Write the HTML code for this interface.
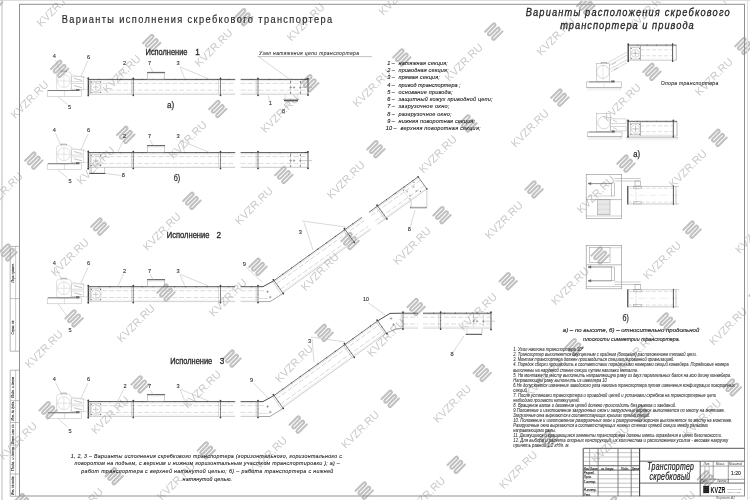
<!DOCTYPE html>
<html><head><meta charset="utf-8"><style>
html,body{margin:0;padding:0;background:#fff;}
svg{display:block;font-family:"Liberation Sans",sans-serif;will-change:transform;}
</style></head><body>
<svg width="750" height="500" viewBox="0 0 750 500">
<text x="0" y="0" font-size="11" fill="#c9c9c9" text-anchor="middle" transform="translate(-10.7,-58.5) rotate(-45) translate(0,4)">KVZR.RU</text>
<path d="M -6.00 6.30 L -6.00 -4.80 A 1.50 1.50 0 0 1 -3.00 -4.80 L -3.00 4.80 A 1.50 1.50 0 0 0 0.00 4.80 L 0.00 -4.80 A 1.50 1.50 0 0 1 3.00 -4.80 L 3.00 4.80 A 1.50 1.50 0 0 0 6.00 4.80 L 6.00 -6.30" stroke="#c0c0c0" stroke-width="2.05" fill="none" stroke-linecap="round" transform="translate(19.5,-89.0) rotate(45)"/>
<text x="0" y="0" font-size="11" fill="#c9c9c9" text-anchor="middle" transform="translate(239.4,-44.1) rotate(-45) translate(0,4)">KVZR.RU</text>
<path d="M -6.00 6.30 L -6.00 -4.80 A 1.50 1.50 0 0 1 -3.00 -4.80 L -3.00 4.80 A 1.50 1.50 0 0 0 0.00 4.80 L 0.00 -4.80 A 1.50 1.50 0 0 1 3.00 -4.80 L 3.00 4.80 A 1.50 1.50 0 0 0 6.00 4.80 L 6.00 -6.30" stroke="#c0c0c0" stroke-width="2.05" fill="none" stroke-linecap="round" transform="translate(269.6,-74.6) rotate(45)"/>
<text x="0" y="0" font-size="11" fill="#c9c9c9" text-anchor="middle" transform="translate(147.4,-18.3) rotate(-45) translate(0,4)">KVZR.RU</text>
<path d="M -6.00 6.30 L -6.00 -4.80 A 1.50 1.50 0 0 1 -3.00 -4.80 L -3.00 4.80 A 1.50 1.50 0 0 0 0.00 4.80 L 0.00 -4.80 A 1.50 1.50 0 0 1 3.00 -4.80 L 3.00 4.80 A 1.50 1.50 0 0 0 6.00 4.80 L 6.00 -6.30" stroke="#c0c0c0" stroke-width="2.05" fill="none" stroke-linecap="round" transform="translate(177.6,-48.8) rotate(45)"/>
<text x="0" y="0" font-size="11" fill="#c9c9c9" text-anchor="middle" transform="translate(55.4,7.5) rotate(-45) translate(0,4)">KVZR.RU</text>
<path d="M -6.00 6.30 L -6.00 -4.80 A 1.50 1.50 0 0 1 -3.00 -4.80 L -3.00 4.80 A 1.50 1.50 0 0 0 0.00 4.80 L 0.00 -4.80 A 1.50 1.50 0 0 1 3.00 -4.80 L 3.00 4.80 A 1.50 1.50 0 0 0 6.00 4.80 L 6.00 -6.30" stroke="#c0c0c0" stroke-width="2.05" fill="none" stroke-linecap="round" transform="translate(85.6,-23.0) rotate(45)"/>
<text x="0" y="0" font-size="11" fill="#c9c9c9" text-anchor="middle" transform="translate(-36.6,33.3) rotate(-45) translate(0,4)">KVZR.RU</text>
<path d="M -6.00 6.30 L -6.00 -4.80 A 1.50 1.50 0 0 1 -3.00 -4.80 L -3.00 4.80 A 1.50 1.50 0 0 0 0.00 4.80 L 0.00 -4.80 A 1.50 1.50 0 0 1 3.00 -4.80 L 3.00 4.80 A 1.50 1.50 0 0 0 6.00 4.80 L 6.00 -6.30" stroke="#c0c0c0" stroke-width="2.05" fill="none" stroke-linecap="round" transform="translate(-6.4,2.8) rotate(45)"/>
<text x="0" y="0" font-size="11" fill="#c9c9c9" text-anchor="middle" transform="translate(581.5,-55.5) rotate(-45) translate(0,4)">KVZR.RU</text>
<path d="M -6.00 6.30 L -6.00 -4.80 A 1.50 1.50 0 0 1 -3.00 -4.80 L -3.00 4.80 A 1.50 1.50 0 0 0 0.00 4.80 L 0.00 -4.80 A 1.50 1.50 0 0 1 3.00 -4.80 L 3.00 4.80 A 1.50 1.50 0 0 0 6.00 4.80 L 6.00 -6.30" stroke="#c0c0c0" stroke-width="2.05" fill="none" stroke-linecap="round" transform="translate(611.7,-86.0) rotate(45)"/>
<text x="0" y="0" font-size="11" fill="#c9c9c9" text-anchor="middle" transform="translate(489.5,-29.7) rotate(-45) translate(0,4)">KVZR.RU</text>
<path d="M -6.00 6.30 L -6.00 -4.80 A 1.50 1.50 0 0 1 -3.00 -4.80 L -3.00 4.80 A 1.50 1.50 0 0 0 0.00 4.80 L 0.00 -4.80 A 1.50 1.50 0 0 1 3.00 -4.80 L 3.00 4.80 A 1.50 1.50 0 0 0 6.00 4.80 L 6.00 -6.30" stroke="#c0c0c0" stroke-width="2.05" fill="none" stroke-linecap="round" transform="translate(519.7,-60.2) rotate(45)"/>
<text x="0" y="0" font-size="11" fill="#c9c9c9" text-anchor="middle" transform="translate(397.5,-3.9) rotate(-45) translate(0,4)">KVZR.RU</text>
<path d="M -6.00 6.30 L -6.00 -4.80 A 1.50 1.50 0 0 1 -3.00 -4.80 L -3.00 4.80 A 1.50 1.50 0 0 0 0.00 4.80 L 0.00 -4.80 A 1.50 1.50 0 0 1 3.00 -4.80 L 3.00 4.80 A 1.50 1.50 0 0 0 6.00 4.80 L 6.00 -6.30" stroke="#c0c0c0" stroke-width="2.05" fill="none" stroke-linecap="round" transform="translate(427.7,-34.4) rotate(45)"/>
<text x="0" y="0" font-size="11" fill="#c9c9c9" text-anchor="middle" transform="translate(305.5,21.9) rotate(-45) translate(0,4)">KVZR.RU</text>
<path d="M -6.00 6.30 L -6.00 -4.80 A 1.50 1.50 0 0 1 -3.00 -4.80 L -3.00 4.80 A 1.50 1.50 0 0 0 0.00 4.80 L 0.00 -4.80 A 1.50 1.50 0 0 1 3.00 -4.80 L 3.00 4.80 A 1.50 1.50 0 0 0 6.00 4.80 L 6.00 -6.30" stroke="#c0c0c0" stroke-width="2.05" fill="none" stroke-linecap="round" transform="translate(335.7,-8.6) rotate(45)"/>
<text x="0" y="0" font-size="11" fill="#c9c9c9" text-anchor="middle" transform="translate(213.5,47.7) rotate(-45) translate(0,4)">KVZR.RU</text>
<path d="M -6.00 6.30 L -6.00 -4.80 A 1.50 1.50 0 0 1 -3.00 -4.80 L -3.00 4.80 A 1.50 1.50 0 0 0 0.00 4.80 L 0.00 -4.80 A 1.50 1.50 0 0 1 3.00 -4.80 L 3.00 4.80 A 1.50 1.50 0 0 0 6.00 4.80 L 6.00 -6.30" stroke="#c0c0c0" stroke-width="2.05" fill="none" stroke-linecap="round" transform="translate(243.7,17.2) rotate(45)"/>
<text x="0" y="0" font-size="11" fill="#c9c9c9" text-anchor="middle" transform="translate(121.5,73.5) rotate(-45) translate(0,4)">KVZR.RU</text>
<path d="M -6.00 6.30 L -6.00 -4.80 A 1.50 1.50 0 0 1 -3.00 -4.80 L -3.00 4.80 A 1.50 1.50 0 0 0 0.00 4.80 L 0.00 -4.80 A 1.50 1.50 0 0 1 3.00 -4.80 L 3.00 4.80 A 1.50 1.50 0 0 0 6.00 4.80 L 6.00 -6.30" stroke="#c0c0c0" stroke-width="2.05" fill="none" stroke-linecap="round" transform="translate(151.7,43.0) rotate(45)"/>
<text x="0" y="0" font-size="11" fill="#c9c9c9" text-anchor="middle" transform="translate(29.5,99.3) rotate(-45) translate(0,4)">KVZR.RU</text>
<path d="M -6.00 6.30 L -6.00 -4.80 A 1.50 1.50 0 0 1 -3.00 -4.80 L -3.00 4.80 A 1.50 1.50 0 0 0 0.00 4.80 L 0.00 -4.80 A 1.50 1.50 0 0 1 3.00 -4.80 L 3.00 4.80 A 1.50 1.50 0 0 0 6.00 4.80 L 6.00 -6.30" stroke="#c0c0c0" stroke-width="2.05" fill="none" stroke-linecap="round" transform="translate(59.7,68.8) rotate(45)"/>
<text x="0" y="0" font-size="11" fill="#c9c9c9" text-anchor="middle" transform="translate(739.6,-15.3) rotate(-45) translate(0,4)">KVZR.RU</text>
<path d="M -6.00 6.30 L -6.00 -4.80 A 1.50 1.50 0 0 1 -3.00 -4.80 L -3.00 4.80 A 1.50 1.50 0 0 0 0.00 4.80 L 0.00 -4.80 A 1.50 1.50 0 0 1 3.00 -4.80 L 3.00 4.80 A 1.50 1.50 0 0 0 6.00 4.80 L 6.00 -6.30" stroke="#c0c0c0" stroke-width="2.05" fill="none" stroke-linecap="round" transform="translate(769.8,-45.8) rotate(45)"/>
<text x="0" y="0" font-size="11" fill="#c9c9c9" text-anchor="middle" transform="translate(647.6,10.5) rotate(-45) translate(0,4)">KVZR.RU</text>
<path d="M -6.00 6.30 L -6.00 -4.80 A 1.50 1.50 0 0 1 -3.00 -4.80 L -3.00 4.80 A 1.50 1.50 0 0 0 0.00 4.80 L 0.00 -4.80 A 1.50 1.50 0 0 1 3.00 -4.80 L 3.00 4.80 A 1.50 1.50 0 0 0 6.00 4.80 L 6.00 -6.30" stroke="#c0c0c0" stroke-width="2.05" fill="none" stroke-linecap="round" transform="translate(677.8,-20.0) rotate(45)"/>
<text x="0" y="0" font-size="11" fill="#c9c9c9" text-anchor="middle" transform="translate(555.6,36.3) rotate(-45) translate(0,4)">KVZR.RU</text>
<path d="M -6.00 6.30 L -6.00 -4.80 A 1.50 1.50 0 0 1 -3.00 -4.80 L -3.00 4.80 A 1.50 1.50 0 0 0 0.00 4.80 L 0.00 -4.80 A 1.50 1.50 0 0 1 3.00 -4.80 L 3.00 4.80 A 1.50 1.50 0 0 0 6.00 4.80 L 6.00 -6.30" stroke="#c0c0c0" stroke-width="2.05" fill="none" stroke-linecap="round" transform="translate(585.8,5.8) rotate(45)"/>
<text x="0" y="0" font-size="11" fill="#c9c9c9" text-anchor="middle" transform="translate(463.6,62.1) rotate(-45) translate(0,4)">KVZR.RU</text>
<path d="M -6.00 6.30 L -6.00 -4.80 A 1.50 1.50 0 0 1 -3.00 -4.80 L -3.00 4.80 A 1.50 1.50 0 0 0 0.00 4.80 L 0.00 -4.80 A 1.50 1.50 0 0 1 3.00 -4.80 L 3.00 4.80 A 1.50 1.50 0 0 0 6.00 4.80 L 6.00 -6.30" stroke="#c0c0c0" stroke-width="2.05" fill="none" stroke-linecap="round" transform="translate(493.8,31.6) rotate(45)"/>
<text x="0" y="0" font-size="11" fill="#c9c9c9" text-anchor="middle" transform="translate(371.6,87.9) rotate(-45) translate(0,4)">KVZR.RU</text>
<path d="M -6.00 6.30 L -6.00 -4.80 A 1.50 1.50 0 0 1 -3.00 -4.80 L -3.00 4.80 A 1.50 1.50 0 0 0 0.00 4.80 L 0.00 -4.80 A 1.50 1.50 0 0 1 3.00 -4.80 L 3.00 4.80 A 1.50 1.50 0 0 0 6.00 4.80 L 6.00 -6.30" stroke="#c0c0c0" stroke-width="2.05" fill="none" stroke-linecap="round" transform="translate(401.8,57.4) rotate(45)"/>
<text x="0" y="0" font-size="11" fill="#c9c9c9" text-anchor="middle" transform="translate(279.6,113.7) rotate(-45) translate(0,4)">KVZR.RU</text>
<path d="M -6.00 6.30 L -6.00 -4.80 A 1.50 1.50 0 0 1 -3.00 -4.80 L -3.00 4.80 A 1.50 1.50 0 0 0 0.00 4.80 L 0.00 -4.80 A 1.50 1.50 0 0 1 3.00 -4.80 L 3.00 4.80 A 1.50 1.50 0 0 0 6.00 4.80 L 6.00 -6.30" stroke="#c0c0c0" stroke-width="2.05" fill="none" stroke-linecap="round" transform="translate(309.8,83.2) rotate(45)"/>
<text x="0" y="0" font-size="11" fill="#c9c9c9" text-anchor="middle" transform="translate(187.6,139.5) rotate(-45) translate(0,4)">KVZR.RU</text>
<path d="M -6.00 6.30 L -6.00 -4.80 A 1.50 1.50 0 0 1 -3.00 -4.80 L -3.00 4.80 A 1.50 1.50 0 0 0 0.00 4.80 L 0.00 -4.80 A 1.50 1.50 0 0 1 3.00 -4.80 L 3.00 4.80 A 1.50 1.50 0 0 0 6.00 4.80 L 6.00 -6.30" stroke="#c0c0c0" stroke-width="2.05" fill="none" stroke-linecap="round" transform="translate(217.8,109.0) rotate(45)"/>
<text x="0" y="0" font-size="11" fill="#c9c9c9" text-anchor="middle" transform="translate(95.6,165.3) rotate(-45) translate(0,4)">KVZR.RU</text>
<path d="M -6.00 6.30 L -6.00 -4.80 A 1.50 1.50 0 0 1 -3.00 -4.80 L -3.00 4.80 A 1.50 1.50 0 0 0 0.00 4.80 L 0.00 -4.80 A 1.50 1.50 0 0 1 3.00 -4.80 L 3.00 4.80 A 1.50 1.50 0 0 0 6.00 4.80 L 6.00 -6.30" stroke="#c0c0c0" stroke-width="2.05" fill="none" stroke-linecap="round" transform="translate(125.8,134.8) rotate(45)"/>
<text x="0" y="0" font-size="11" fill="#c9c9c9" text-anchor="middle" transform="translate(3.6,191.1) rotate(-45) translate(0,4)">KVZR.RU</text>
<path d="M -6.00 6.30 L -6.00 -4.80 A 1.50 1.50 0 0 1 -3.00 -4.80 L -3.00 4.80 A 1.50 1.50 0 0 0 0.00 4.80 L 0.00 -4.80 A 1.50 1.50 0 0 1 3.00 -4.80 L 3.00 4.80 A 1.50 1.50 0 0 0 6.00 4.80 L 6.00 -6.30" stroke="#c0c0c0" stroke-width="2.05" fill="none" stroke-linecap="round" transform="translate(33.8,160.6) rotate(45)"/>
<text x="0" y="0" font-size="11" fill="#c9c9c9" text-anchor="middle" transform="translate(805.7,50.7) rotate(-45) translate(0,4)">KVZR.RU</text>
<path d="M -6.00 6.30 L -6.00 -4.80 A 1.50 1.50 0 0 1 -3.00 -4.80 L -3.00 4.80 A 1.50 1.50 0 0 0 0.00 4.80 L 0.00 -4.80 A 1.50 1.50 0 0 1 3.00 -4.80 L 3.00 4.80 A 1.50 1.50 0 0 0 6.00 4.80 L 6.00 -6.30" stroke="#c0c0c0" stroke-width="2.05" fill="none" stroke-linecap="round" transform="translate(835.9,20.2) rotate(45)"/>
<text x="0" y="0" font-size="11" fill="#c9c9c9" text-anchor="middle" transform="translate(713.7,76.5) rotate(-45) translate(0,4)">KVZR.RU</text>
<path d="M -6.00 6.30 L -6.00 -4.80 A 1.50 1.50 0 0 1 -3.00 -4.80 L -3.00 4.80 A 1.50 1.50 0 0 0 0.00 4.80 L 0.00 -4.80 A 1.50 1.50 0 0 1 3.00 -4.80 L 3.00 4.80 A 1.50 1.50 0 0 0 6.00 4.80 L 6.00 -6.30" stroke="#c0c0c0" stroke-width="2.05" fill="none" stroke-linecap="round" transform="translate(743.9,46.0) rotate(45)"/>
<text x="0" y="0" font-size="11" fill="#c9c9c9" text-anchor="middle" transform="translate(621.7,102.3) rotate(-45) translate(0,4)">KVZR.RU</text>
<path d="M -6.00 6.30 L -6.00 -4.80 A 1.50 1.50 0 0 1 -3.00 -4.80 L -3.00 4.80 A 1.50 1.50 0 0 0 0.00 4.80 L 0.00 -4.80 A 1.50 1.50 0 0 1 3.00 -4.80 L 3.00 4.80 A 1.50 1.50 0 0 0 6.00 4.80 L 6.00 -6.30" stroke="#c0c0c0" stroke-width="2.05" fill="none" stroke-linecap="round" transform="translate(651.9,71.8) rotate(45)"/>
<text x="0" y="0" font-size="11" fill="#c9c9c9" text-anchor="middle" transform="translate(529.7,128.1) rotate(-45) translate(0,4)">KVZR.RU</text>
<path d="M -6.00 6.30 L -6.00 -4.80 A 1.50 1.50 0 0 1 -3.00 -4.80 L -3.00 4.80 A 1.50 1.50 0 0 0 0.00 4.80 L 0.00 -4.80 A 1.50 1.50 0 0 1 3.00 -4.80 L 3.00 4.80 A 1.50 1.50 0 0 0 6.00 4.80 L 6.00 -6.30" stroke="#c0c0c0" stroke-width="2.05" fill="none" stroke-linecap="round" transform="translate(559.9,97.6) rotate(45)"/>
<text x="0" y="0" font-size="11" fill="#c9c9c9" text-anchor="middle" transform="translate(437.7,153.9) rotate(-45) translate(0,4)">KVZR.RU</text>
<path d="M -6.00 6.30 L -6.00 -4.80 A 1.50 1.50 0 0 1 -3.00 -4.80 L -3.00 4.80 A 1.50 1.50 0 0 0 0.00 4.80 L 0.00 -4.80 A 1.50 1.50 0 0 1 3.00 -4.80 L 3.00 4.80 A 1.50 1.50 0 0 0 6.00 4.80 L 6.00 -6.30" stroke="#c0c0c0" stroke-width="2.05" fill="none" stroke-linecap="round" transform="translate(467.9,123.4) rotate(45)"/>
<text x="0" y="0" font-size="11" fill="#c9c9c9" text-anchor="middle" transform="translate(345.7,179.7) rotate(-45) translate(0,4)">KVZR.RU</text>
<path d="M -6.00 6.30 L -6.00 -4.80 A 1.50 1.50 0 0 1 -3.00 -4.80 L -3.00 4.80 A 1.50 1.50 0 0 0 0.00 4.80 L 0.00 -4.80 A 1.50 1.50 0 0 1 3.00 -4.80 L 3.00 4.80 A 1.50 1.50 0 0 0 6.00 4.80 L 6.00 -6.30" stroke="#c0c0c0" stroke-width="2.05" fill="none" stroke-linecap="round" transform="translate(375.9,149.2) rotate(45)"/>
<text x="0" y="0" font-size="11" fill="#c9c9c9" text-anchor="middle" transform="translate(253.7,205.5) rotate(-45) translate(0,4)">KVZR.RU</text>
<path d="M -6.00 6.30 L -6.00 -4.80 A 1.50 1.50 0 0 1 -3.00 -4.80 L -3.00 4.80 A 1.50 1.50 0 0 0 0.00 4.80 L 0.00 -4.80 A 1.50 1.50 0 0 1 3.00 -4.80 L 3.00 4.80 A 1.50 1.50 0 0 0 6.00 4.80 L 6.00 -6.30" stroke="#c0c0c0" stroke-width="2.05" fill="none" stroke-linecap="round" transform="translate(283.9,175.0) rotate(45)"/>
<text x="0" y="0" font-size="11" fill="#c9c9c9" text-anchor="middle" transform="translate(161.7,231.3) rotate(-45) translate(0,4)">KVZR.RU</text>
<path d="M -6.00 6.30 L -6.00 -4.80 A 1.50 1.50 0 0 1 -3.00 -4.80 L -3.00 4.80 A 1.50 1.50 0 0 0 0.00 4.80 L 0.00 -4.80 A 1.50 1.50 0 0 1 3.00 -4.80 L 3.00 4.80 A 1.50 1.50 0 0 0 6.00 4.80 L 6.00 -6.30" stroke="#c0c0c0" stroke-width="2.05" fill="none" stroke-linecap="round" transform="translate(191.9,200.8) rotate(45)"/>
<text x="0" y="0" font-size="11" fill="#c9c9c9" text-anchor="middle" transform="translate(69.7,257.1) rotate(-45) translate(0,4)">KVZR.RU</text>
<path d="M -6.00 6.30 L -6.00 -4.80 A 1.50 1.50 0 0 1 -3.00 -4.80 L -3.00 4.80 A 1.50 1.50 0 0 0 0.00 4.80 L 0.00 -4.80 A 1.50 1.50 0 0 1 3.00 -4.80 L 3.00 4.80 A 1.50 1.50 0 0 0 6.00 4.80 L 6.00 -6.30" stroke="#c0c0c0" stroke-width="2.05" fill="none" stroke-linecap="round" transform="translate(99.9,226.6) rotate(45)"/>
<text x="0" y="0" font-size="11" fill="#c9c9c9" text-anchor="middle" transform="translate(-22.3,282.9) rotate(-45) translate(0,4)">KVZR.RU</text>
<path d="M -6.00 6.30 L -6.00 -4.80 A 1.50 1.50 0 0 1 -3.00 -4.80 L -3.00 4.80 A 1.50 1.50 0 0 0 0.00 4.80 L 0.00 -4.80 A 1.50 1.50 0 0 1 3.00 -4.80 L 3.00 4.80 A 1.50 1.50 0 0 0 6.00 4.80 L 6.00 -6.30" stroke="#c0c0c0" stroke-width="2.05" fill="none" stroke-linecap="round" transform="translate(7.9,252.4) rotate(45)"/>
<text x="0" y="0" font-size="11" fill="#c9c9c9" text-anchor="middle" transform="translate(779.8,142.5) rotate(-45) translate(0,4)">KVZR.RU</text>
<path d="M -6.00 6.30 L -6.00 -4.80 A 1.50 1.50 0 0 1 -3.00 -4.80 L -3.00 4.80 A 1.50 1.50 0 0 0 0.00 4.80 L 0.00 -4.80 A 1.50 1.50 0 0 1 3.00 -4.80 L 3.00 4.80 A 1.50 1.50 0 0 0 6.00 4.80 L 6.00 -6.30" stroke="#c0c0c0" stroke-width="2.05" fill="none" stroke-linecap="round" transform="translate(810.0,112.0) rotate(45)"/>
<text x="0" y="0" font-size="11" fill="#c9c9c9" text-anchor="middle" transform="translate(687.8,168.3) rotate(-45) translate(0,4)">KVZR.RU</text>
<path d="M -6.00 6.30 L -6.00 -4.80 A 1.50 1.50 0 0 1 -3.00 -4.80 L -3.00 4.80 A 1.50 1.50 0 0 0 0.00 4.80 L 0.00 -4.80 A 1.50 1.50 0 0 1 3.00 -4.80 L 3.00 4.80 A 1.50 1.50 0 0 0 6.00 4.80 L 6.00 -6.30" stroke="#c0c0c0" stroke-width="2.05" fill="none" stroke-linecap="round" transform="translate(718.0,137.8) rotate(45)"/>
<text x="0" y="0" font-size="11" fill="#c9c9c9" text-anchor="middle" transform="translate(595.8,194.1) rotate(-45) translate(0,4)">KVZR.RU</text>
<path d="M -6.00 6.30 L -6.00 -4.80 A 1.50 1.50 0 0 1 -3.00 -4.80 L -3.00 4.80 A 1.50 1.50 0 0 0 0.00 4.80 L 0.00 -4.80 A 1.50 1.50 0 0 1 3.00 -4.80 L 3.00 4.80 A 1.50 1.50 0 0 0 6.00 4.80 L 6.00 -6.30" stroke="#c0c0c0" stroke-width="2.05" fill="none" stroke-linecap="round" transform="translate(626.0,163.6) rotate(45)"/>
<text x="0" y="0" font-size="11" fill="#c9c9c9" text-anchor="middle" transform="translate(503.8,219.9) rotate(-45) translate(0,4)">KVZR.RU</text>
<path d="M -6.00 6.30 L -6.00 -4.80 A 1.50 1.50 0 0 1 -3.00 -4.80 L -3.00 4.80 A 1.50 1.50 0 0 0 0.00 4.80 L 0.00 -4.80 A 1.50 1.50 0 0 1 3.00 -4.80 L 3.00 4.80 A 1.50 1.50 0 0 0 6.00 4.80 L 6.00 -6.30" stroke="#c0c0c0" stroke-width="2.05" fill="none" stroke-linecap="round" transform="translate(534.0,189.4) rotate(45)"/>
<text x="0" y="0" font-size="11" fill="#c9c9c9" text-anchor="middle" transform="translate(411.8,245.7) rotate(-45) translate(0,4)">KVZR.RU</text>
<path d="M -6.00 6.30 L -6.00 -4.80 A 1.50 1.50 0 0 1 -3.00 -4.80 L -3.00 4.80 A 1.50 1.50 0 0 0 0.00 4.80 L 0.00 -4.80 A 1.50 1.50 0 0 1 3.00 -4.80 L 3.00 4.80 A 1.50 1.50 0 0 0 6.00 4.80 L 6.00 -6.30" stroke="#c0c0c0" stroke-width="2.05" fill="none" stroke-linecap="round" transform="translate(442.0,215.2) rotate(45)"/>
<text x="0" y="0" font-size="11" fill="#c9c9c9" text-anchor="middle" transform="translate(319.8,271.5) rotate(-45) translate(0,4)">KVZR.RU</text>
<path d="M -6.00 6.30 L -6.00 -4.80 A 1.50 1.50 0 0 1 -3.00 -4.80 L -3.00 4.80 A 1.50 1.50 0 0 0 0.00 4.80 L 0.00 -4.80 A 1.50 1.50 0 0 1 3.00 -4.80 L 3.00 4.80 A 1.50 1.50 0 0 0 6.00 4.80 L 6.00 -6.30" stroke="#c0c0c0" stroke-width="2.05" fill="none" stroke-linecap="round" transform="translate(350.0,241.0) rotate(45)"/>
<text x="0" y="0" font-size="11" fill="#c9c9c9" text-anchor="middle" transform="translate(227.8,297.3) rotate(-45) translate(0,4)">KVZR.RU</text>
<path d="M -6.00 6.30 L -6.00 -4.80 A 1.50 1.50 0 0 1 -3.00 -4.80 L -3.00 4.80 A 1.50 1.50 0 0 0 0.00 4.80 L 0.00 -4.80 A 1.50 1.50 0 0 1 3.00 -4.80 L 3.00 4.80 A 1.50 1.50 0 0 0 6.00 4.80 L 6.00 -6.30" stroke="#c0c0c0" stroke-width="2.05" fill="none" stroke-linecap="round" transform="translate(258.0,266.8) rotate(45)"/>
<text x="0" y="0" font-size="11" fill="#c9c9c9" text-anchor="middle" transform="translate(135.8,323.1) rotate(-45) translate(0,4)">KVZR.RU</text>
<path d="M -6.00 6.30 L -6.00 -4.80 A 1.50 1.50 0 0 1 -3.00 -4.80 L -3.00 4.80 A 1.50 1.50 0 0 0 0.00 4.80 L 0.00 -4.80 A 1.50 1.50 0 0 1 3.00 -4.80 L 3.00 4.80 A 1.50 1.50 0 0 0 6.00 4.80 L 6.00 -6.30" stroke="#c0c0c0" stroke-width="2.05" fill="none" stroke-linecap="round" transform="translate(166.0,292.6) rotate(45)"/>
<text x="0" y="0" font-size="11" fill="#c9c9c9" text-anchor="middle" transform="translate(43.8,348.9) rotate(-45) translate(0,4)">KVZR.RU</text>
<path d="M -6.00 6.30 L -6.00 -4.80 A 1.50 1.50 0 0 1 -3.00 -4.80 L -3.00 4.80 A 1.50 1.50 0 0 0 0.00 4.80 L 0.00 -4.80 A 1.50 1.50 0 0 1 3.00 -4.80 L 3.00 4.80 A 1.50 1.50 0 0 0 6.00 4.80 L 6.00 -6.30" stroke="#c0c0c0" stroke-width="2.05" fill="none" stroke-linecap="round" transform="translate(74.0,318.4) rotate(45)"/>
<text x="0" y="0" font-size="11" fill="#c9c9c9" text-anchor="middle" transform="translate(-48.2,374.7) rotate(-45) translate(0,4)">KVZR.RU</text>
<path d="M -6.00 6.30 L -6.00 -4.80 A 1.50 1.50 0 0 1 -3.00 -4.80 L -3.00 4.80 A 1.50 1.50 0 0 0 0.00 4.80 L 0.00 -4.80 A 1.50 1.50 0 0 1 3.00 -4.80 L 3.00 4.80 A 1.50 1.50 0 0 0 6.00 4.80 L 6.00 -6.30" stroke="#c0c0c0" stroke-width="2.05" fill="none" stroke-linecap="round" transform="translate(-18.0,344.2) rotate(45)"/>
<text x="0" y="0" font-size="11" fill="#c9c9c9" text-anchor="middle" transform="translate(753.9,234.3) rotate(-45) translate(0,4)">KVZR.RU</text>
<path d="M -6.00 6.30 L -6.00 -4.80 A 1.50 1.50 0 0 1 -3.00 -4.80 L -3.00 4.80 A 1.50 1.50 0 0 0 0.00 4.80 L 0.00 -4.80 A 1.50 1.50 0 0 1 3.00 -4.80 L 3.00 4.80 A 1.50 1.50 0 0 0 6.00 4.80 L 6.00 -6.30" stroke="#c0c0c0" stroke-width="2.05" fill="none" stroke-linecap="round" transform="translate(784.1,203.8) rotate(45)"/>
<text x="0" y="0" font-size="11" fill="#c9c9c9" text-anchor="middle" transform="translate(661.9,260.1) rotate(-45) translate(0,4)">KVZR.RU</text>
<path d="M -6.00 6.30 L -6.00 -4.80 A 1.50 1.50 0 0 1 -3.00 -4.80 L -3.00 4.80 A 1.50 1.50 0 0 0 0.00 4.80 L 0.00 -4.80 A 1.50 1.50 0 0 1 3.00 -4.80 L 3.00 4.80 A 1.50 1.50 0 0 0 6.00 4.80 L 6.00 -6.30" stroke="#c0c0c0" stroke-width="2.05" fill="none" stroke-linecap="round" transform="translate(692.1,229.6) rotate(45)"/>
<text x="0" y="0" font-size="11" fill="#c9c9c9" text-anchor="middle" transform="translate(569.9,285.9) rotate(-45) translate(0,4)">KVZR.RU</text>
<path d="M -6.00 6.30 L -6.00 -4.80 A 1.50 1.50 0 0 1 -3.00 -4.80 L -3.00 4.80 A 1.50 1.50 0 0 0 0.00 4.80 L 0.00 -4.80 A 1.50 1.50 0 0 1 3.00 -4.80 L 3.00 4.80 A 1.50 1.50 0 0 0 6.00 4.80 L 6.00 -6.30" stroke="#c0c0c0" stroke-width="2.05" fill="none" stroke-linecap="round" transform="translate(600.1,255.4) rotate(45)"/>
<text x="0" y="0" font-size="11" fill="#c9c9c9" text-anchor="middle" transform="translate(477.9,311.7) rotate(-45) translate(0,4)">KVZR.RU</text>
<path d="M -6.00 6.30 L -6.00 -4.80 A 1.50 1.50 0 0 1 -3.00 -4.80 L -3.00 4.80 A 1.50 1.50 0 0 0 0.00 4.80 L 0.00 -4.80 A 1.50 1.50 0 0 1 3.00 -4.80 L 3.00 4.80 A 1.50 1.50 0 0 0 6.00 4.80 L 6.00 -6.30" stroke="#c0c0c0" stroke-width="2.05" fill="none" stroke-linecap="round" transform="translate(508.1,281.2) rotate(45)"/>
<text x="0" y="0" font-size="11" fill="#c9c9c9" text-anchor="middle" transform="translate(385.9,337.5) rotate(-45) translate(0,4)">KVZR.RU</text>
<path d="M -6.00 6.30 L -6.00 -4.80 A 1.50 1.50 0 0 1 -3.00 -4.80 L -3.00 4.80 A 1.50 1.50 0 0 0 0.00 4.80 L 0.00 -4.80 A 1.50 1.50 0 0 1 3.00 -4.80 L 3.00 4.80 A 1.50 1.50 0 0 0 6.00 4.80 L 6.00 -6.30" stroke="#c0c0c0" stroke-width="2.05" fill="none" stroke-linecap="round" transform="translate(416.1,307.0) rotate(45)"/>
<text x="0" y="0" font-size="11" fill="#c9c9c9" text-anchor="middle" transform="translate(293.9,363.3) rotate(-45) translate(0,4)">KVZR.RU</text>
<path d="M -6.00 6.30 L -6.00 -4.80 A 1.50 1.50 0 0 1 -3.00 -4.80 L -3.00 4.80 A 1.50 1.50 0 0 0 0.00 4.80 L 0.00 -4.80 A 1.50 1.50 0 0 1 3.00 -4.80 L 3.00 4.80 A 1.50 1.50 0 0 0 6.00 4.80 L 6.00 -6.30" stroke="#c0c0c0" stroke-width="2.05" fill="none" stroke-linecap="round" transform="translate(324.1,332.8) rotate(45)"/>
<text x="0" y="0" font-size="11" fill="#c9c9c9" text-anchor="middle" transform="translate(201.9,389.1) rotate(-45) translate(0,4)">KVZR.RU</text>
<path d="M -6.00 6.30 L -6.00 -4.80 A 1.50 1.50 0 0 1 -3.00 -4.80 L -3.00 4.80 A 1.50 1.50 0 0 0 0.00 4.80 L 0.00 -4.80 A 1.50 1.50 0 0 1 3.00 -4.80 L 3.00 4.80 A 1.50 1.50 0 0 0 6.00 4.80 L 6.00 -6.30" stroke="#c0c0c0" stroke-width="2.05" fill="none" stroke-linecap="round" transform="translate(232.1,358.6) rotate(45)"/>
<text x="0" y="0" font-size="11" fill="#c9c9c9" text-anchor="middle" transform="translate(109.9,414.9) rotate(-45) translate(0,4)">KVZR.RU</text>
<path d="M -6.00 6.30 L -6.00 -4.80 A 1.50 1.50 0 0 1 -3.00 -4.80 L -3.00 4.80 A 1.50 1.50 0 0 0 0.00 4.80 L 0.00 -4.80 A 1.50 1.50 0 0 1 3.00 -4.80 L 3.00 4.80 A 1.50 1.50 0 0 0 6.00 4.80 L 6.00 -6.30" stroke="#c0c0c0" stroke-width="2.05" fill="none" stroke-linecap="round" transform="translate(140.1,384.4) rotate(45)"/>
<text x="0" y="0" font-size="11" fill="#c9c9c9" text-anchor="middle" transform="translate(17.9,440.7) rotate(-45) translate(0,4)">KVZR.RU</text>
<path d="M -6.00 6.30 L -6.00 -4.80 A 1.50 1.50 0 0 1 -3.00 -4.80 L -3.00 4.80 A 1.50 1.50 0 0 0 0.00 4.80 L 0.00 -4.80 A 1.50 1.50 0 0 1 3.00 -4.80 L 3.00 4.80 A 1.50 1.50 0 0 0 6.00 4.80 L 6.00 -6.30" stroke="#c0c0c0" stroke-width="2.05" fill="none" stroke-linecap="round" transform="translate(48.1,410.2) rotate(45)"/>
<text x="0" y="0" font-size="11" fill="#c9c9c9" text-anchor="middle" transform="translate(728.0,326.1) rotate(-45) translate(0,4)">KVZR.RU</text>
<path d="M -6.00 6.30 L -6.00 -4.80 A 1.50 1.50 0 0 1 -3.00 -4.80 L -3.00 4.80 A 1.50 1.50 0 0 0 0.00 4.80 L 0.00 -4.80 A 1.50 1.50 0 0 1 3.00 -4.80 L 3.00 4.80 A 1.50 1.50 0 0 0 6.00 4.80 L 6.00 -6.30" stroke="#c0c0c0" stroke-width="2.05" fill="none" stroke-linecap="round" transform="translate(758.2,295.6) rotate(45)"/>
<text x="0" y="0" font-size="11" fill="#c9c9c9" text-anchor="middle" transform="translate(636.0,351.9) rotate(-45) translate(0,4)">KVZR.RU</text>
<path d="M -6.00 6.30 L -6.00 -4.80 A 1.50 1.50 0 0 1 -3.00 -4.80 L -3.00 4.80 A 1.50 1.50 0 0 0 0.00 4.80 L 0.00 -4.80 A 1.50 1.50 0 0 1 3.00 -4.80 L 3.00 4.80 A 1.50 1.50 0 0 0 6.00 4.80 L 6.00 -6.30" stroke="#c0c0c0" stroke-width="2.05" fill="none" stroke-linecap="round" transform="translate(666.2,321.4) rotate(45)"/>
<text x="0" y="0" font-size="11" fill="#c9c9c9" text-anchor="middle" transform="translate(544.0,377.7) rotate(-45) translate(0,4)">KVZR.RU</text>
<path d="M -6.00 6.30 L -6.00 -4.80 A 1.50 1.50 0 0 1 -3.00 -4.80 L -3.00 4.80 A 1.50 1.50 0 0 0 0.00 4.80 L 0.00 -4.80 A 1.50 1.50 0 0 1 3.00 -4.80 L 3.00 4.80 A 1.50 1.50 0 0 0 6.00 4.80 L 6.00 -6.30" stroke="#c0c0c0" stroke-width="2.05" fill="none" stroke-linecap="round" transform="translate(574.2,347.2) rotate(45)"/>
<text x="0" y="0" font-size="11" fill="#c9c9c9" text-anchor="middle" transform="translate(452.0,403.5) rotate(-45) translate(0,4)">KVZR.RU</text>
<path d="M -6.00 6.30 L -6.00 -4.80 A 1.50 1.50 0 0 1 -3.00 -4.80 L -3.00 4.80 A 1.50 1.50 0 0 0 0.00 4.80 L 0.00 -4.80 A 1.50 1.50 0 0 1 3.00 -4.80 L 3.00 4.80 A 1.50 1.50 0 0 0 6.00 4.80 L 6.00 -6.30" stroke="#c0c0c0" stroke-width="2.05" fill="none" stroke-linecap="round" transform="translate(482.2,373.0) rotate(45)"/>
<text x="0" y="0" font-size="11" fill="#c9c9c9" text-anchor="middle" transform="translate(360.0,429.3) rotate(-45) translate(0,4)">KVZR.RU</text>
<path d="M -6.00 6.30 L -6.00 -4.80 A 1.50 1.50 0 0 1 -3.00 -4.80 L -3.00 4.80 A 1.50 1.50 0 0 0 0.00 4.80 L 0.00 -4.80 A 1.50 1.50 0 0 1 3.00 -4.80 L 3.00 4.80 A 1.50 1.50 0 0 0 6.00 4.80 L 6.00 -6.30" stroke="#c0c0c0" stroke-width="2.05" fill="none" stroke-linecap="round" transform="translate(390.2,398.8) rotate(45)"/>
<text x="0" y="0" font-size="11" fill="#c9c9c9" text-anchor="middle" transform="translate(268.0,455.1) rotate(-45) translate(0,4)">KVZR.RU</text>
<path d="M -6.00 6.30 L -6.00 -4.80 A 1.50 1.50 0 0 1 -3.00 -4.80 L -3.00 4.80 A 1.50 1.50 0 0 0 0.00 4.80 L 0.00 -4.80 A 1.50 1.50 0 0 1 3.00 -4.80 L 3.00 4.80 A 1.50 1.50 0 0 0 6.00 4.80 L 6.00 -6.30" stroke="#c0c0c0" stroke-width="2.05" fill="none" stroke-linecap="round" transform="translate(298.2,424.6) rotate(45)"/>
<text x="0" y="0" font-size="11" fill="#c9c9c9" text-anchor="middle" transform="translate(176.0,480.9) rotate(-45) translate(0,4)">KVZR.RU</text>
<path d="M -6.00 6.30 L -6.00 -4.80 A 1.50 1.50 0 0 1 -3.00 -4.80 L -3.00 4.80 A 1.50 1.50 0 0 0 0.00 4.80 L 0.00 -4.80 A 1.50 1.50 0 0 1 3.00 -4.80 L 3.00 4.80 A 1.50 1.50 0 0 0 6.00 4.80 L 6.00 -6.30" stroke="#c0c0c0" stroke-width="2.05" fill="none" stroke-linecap="round" transform="translate(206.2,450.4) rotate(45)"/>
<text x="0" y="0" font-size="11" fill="#c9c9c9" text-anchor="middle" transform="translate(84.0,506.7) rotate(-45) translate(0,4)">KVZR.RU</text>
<path d="M -6.00 6.30 L -6.00 -4.80 A 1.50 1.50 0 0 1 -3.00 -4.80 L -3.00 4.80 A 1.50 1.50 0 0 0 0.00 4.80 L 0.00 -4.80 A 1.50 1.50 0 0 1 3.00 -4.80 L 3.00 4.80 A 1.50 1.50 0 0 0 6.00 4.80 L 6.00 -6.30" stroke="#c0c0c0" stroke-width="2.05" fill="none" stroke-linecap="round" transform="translate(114.2,476.2) rotate(45)"/>
<text x="0" y="0" font-size="11" fill="#c9c9c9" text-anchor="middle" transform="translate(-8.0,532.5) rotate(-45) translate(0,4)">KVZR.RU</text>
<path d="M -6.00 6.30 L -6.00 -4.80 A 1.50 1.50 0 0 1 -3.00 -4.80 L -3.00 4.80 A 1.50 1.50 0 0 0 0.00 4.80 L 0.00 -4.80 A 1.50 1.50 0 0 1 3.00 -4.80 L 3.00 4.80 A 1.50 1.50 0 0 0 6.00 4.80 L 6.00 -6.30" stroke="#c0c0c0" stroke-width="2.05" fill="none" stroke-linecap="round" transform="translate(22.2,502.0) rotate(45)"/>
<text x="0" y="0" font-size="11" fill="#c9c9c9" text-anchor="middle" transform="translate(794.1,392.1) rotate(-45) translate(0,4)">KVZR.RU</text>
<path d="M -6.00 6.30 L -6.00 -4.80 A 1.50 1.50 0 0 1 -3.00 -4.80 L -3.00 4.80 A 1.50 1.50 0 0 0 0.00 4.80 L 0.00 -4.80 A 1.50 1.50 0 0 1 3.00 -4.80 L 3.00 4.80 A 1.50 1.50 0 0 0 6.00 4.80 L 6.00 -6.30" stroke="#c0c0c0" stroke-width="2.05" fill="none" stroke-linecap="round" transform="translate(824.3,361.6) rotate(45)"/>
<text x="0" y="0" font-size="11" fill="#c9c9c9" text-anchor="middle" transform="translate(702.1,417.9) rotate(-45) translate(0,4)">KVZR.RU</text>
<path d="M -6.00 6.30 L -6.00 -4.80 A 1.50 1.50 0 0 1 -3.00 -4.80 L -3.00 4.80 A 1.50 1.50 0 0 0 0.00 4.80 L 0.00 -4.80 A 1.50 1.50 0 0 1 3.00 -4.80 L 3.00 4.80 A 1.50 1.50 0 0 0 6.00 4.80 L 6.00 -6.30" stroke="#c0c0c0" stroke-width="2.05" fill="none" stroke-linecap="round" transform="translate(732.3,387.4) rotate(45)"/>
<text x="0" y="0" font-size="11" fill="#c9c9c9" text-anchor="middle" transform="translate(610.1,443.7) rotate(-45) translate(0,4)">KVZR.RU</text>
<path d="M -6.00 6.30 L -6.00 -4.80 A 1.50 1.50 0 0 1 -3.00 -4.80 L -3.00 4.80 A 1.50 1.50 0 0 0 0.00 4.80 L 0.00 -4.80 A 1.50 1.50 0 0 1 3.00 -4.80 L 3.00 4.80 A 1.50 1.50 0 0 0 6.00 4.80 L 6.00 -6.30" stroke="#c0c0c0" stroke-width="2.05" fill="none" stroke-linecap="round" transform="translate(640.3,413.2) rotate(45)"/>
<text x="0" y="0" font-size="11" fill="#c9c9c9" text-anchor="middle" transform="translate(518.1,469.5) rotate(-45) translate(0,4)">KVZR.RU</text>
<path d="M -6.00 6.30 L -6.00 -4.80 A 1.50 1.50 0 0 1 -3.00 -4.80 L -3.00 4.80 A 1.50 1.50 0 0 0 0.00 4.80 L 0.00 -4.80 A 1.50 1.50 0 0 1 3.00 -4.80 L 3.00 4.80 A 1.50 1.50 0 0 0 6.00 4.80 L 6.00 -6.30" stroke="#c0c0c0" stroke-width="2.05" fill="none" stroke-linecap="round" transform="translate(548.3,439.0) rotate(45)"/>
<text x="0" y="0" font-size="11" fill="#c9c9c9" text-anchor="middle" transform="translate(426.1,495.3) rotate(-45) translate(0,4)">KVZR.RU</text>
<path d="M -6.00 6.30 L -6.00 -4.80 A 1.50 1.50 0 0 1 -3.00 -4.80 L -3.00 4.80 A 1.50 1.50 0 0 0 0.00 4.80 L 0.00 -4.80 A 1.50 1.50 0 0 1 3.00 -4.80 L 3.00 4.80 A 1.50 1.50 0 0 0 6.00 4.80 L 6.00 -6.30" stroke="#c0c0c0" stroke-width="2.05" fill="none" stroke-linecap="round" transform="translate(456.3,464.8) rotate(45)"/>
<text x="0" y="0" font-size="11" fill="#c9c9c9" text-anchor="middle" transform="translate(334.1,521.1) rotate(-45) translate(0,4)">KVZR.RU</text>
<path d="M -6.00 6.30 L -6.00 -4.80 A 1.50 1.50 0 0 1 -3.00 -4.80 L -3.00 4.80 A 1.50 1.50 0 0 0 0.00 4.80 L 0.00 -4.80 A 1.50 1.50 0 0 1 3.00 -4.80 L 3.00 4.80 A 1.50 1.50 0 0 0 6.00 4.80 L 6.00 -6.30" stroke="#c0c0c0" stroke-width="2.05" fill="none" stroke-linecap="round" transform="translate(364.3,490.6) rotate(45)"/>
<text x="0" y="0" font-size="11" fill="#c9c9c9" text-anchor="middle" transform="translate(242.1,546.9) rotate(-45) translate(0,4)">KVZR.RU</text>
<path d="M -6.00 6.30 L -6.00 -4.80 A 1.50 1.50 0 0 1 -3.00 -4.80 L -3.00 4.80 A 1.50 1.50 0 0 0 0.00 4.80 L 0.00 -4.80 A 1.50 1.50 0 0 1 3.00 -4.80 L 3.00 4.80 A 1.50 1.50 0 0 0 6.00 4.80 L 6.00 -6.30" stroke="#c0c0c0" stroke-width="2.05" fill="none" stroke-linecap="round" transform="translate(272.3,516.4) rotate(45)"/>
<text x="0" y="0" font-size="11" fill="#c9c9c9" text-anchor="middle" transform="translate(768.2,483.9) rotate(-45) translate(0,4)">KVZR.RU</text>
<path d="M -6.00 6.30 L -6.00 -4.80 A 1.50 1.50 0 0 1 -3.00 -4.80 L -3.00 4.80 A 1.50 1.50 0 0 0 0.00 4.80 L 0.00 -4.80 A 1.50 1.50 0 0 1 3.00 -4.80 L 3.00 4.80 A 1.50 1.50 0 0 0 6.00 4.80 L 6.00 -6.30" stroke="#c0c0c0" stroke-width="2.05" fill="none" stroke-linecap="round" transform="translate(798.4,453.4) rotate(45)"/>
<text x="0" y="0" font-size="11" fill="#c9c9c9" text-anchor="middle" transform="translate(676.2,509.7) rotate(-45) translate(0,4)">KVZR.RU</text>
<path d="M -6.00 6.30 L -6.00 -4.80 A 1.50 1.50 0 0 1 -3.00 -4.80 L -3.00 4.80 A 1.50 1.50 0 0 0 0.00 4.80 L 0.00 -4.80 A 1.50 1.50 0 0 1 3.00 -4.80 L 3.00 4.80 A 1.50 1.50 0 0 0 6.00 4.80 L 6.00 -6.30" stroke="#c0c0c0" stroke-width="2.05" fill="none" stroke-linecap="round" transform="translate(706.4,479.2) rotate(45)"/>
<text x="0" y="0" font-size="11" fill="#c9c9c9" text-anchor="middle" transform="translate(584.2,535.5) rotate(-45) translate(0,4)">KVZR.RU</text>
<path d="M -6.00 6.30 L -6.00 -4.80 A 1.50 1.50 0 0 1 -3.00 -4.80 L -3.00 4.80 A 1.50 1.50 0 0 0 0.00 4.80 L 0.00 -4.80 A 1.50 1.50 0 0 1 3.00 -4.80 L 3.00 4.80 A 1.50 1.50 0 0 0 6.00 4.80 L 6.00 -6.30" stroke="#c0c0c0" stroke-width="2.05" fill="none" stroke-linecap="round" transform="translate(614.4,505.0) rotate(45)"/>
<line x1="0.00" y1="0.50" x2="750.00" y2="0.50" stroke="#ddd" stroke-width="1" />
<line x1="2.00" y1="0.00" x2="2.00" y2="500.00" stroke="#bbb" stroke-width="1" />
<line x1="747.50" y1="0.00" x2="747.50" y2="500.00" stroke="#ddd" stroke-width="1" />
<rect x="19.50" y="4.30" width="725.00" height="491.70" stroke="#8f8f8f" stroke-width="1" fill="none" />
<line x1="10.20" y1="246.40" x2="10.20" y2="351.20" stroke="#999" stroke-width="0.7" />
<line x1="15.60" y1="246.40" x2="15.60" y2="351.20" stroke="#aaa" stroke-width="0.6" />
<line x1="10.20" y1="246.40" x2="19.50" y2="246.40" stroke="#999" stroke-width="0.7" />
<line x1="10.20" y1="351.20" x2="19.50" y2="351.20" stroke="#999" stroke-width="0.7" />
<line x1="10.20" y1="370.20" x2="10.20" y2="496.30" stroke="#999" stroke-width="0.7" />
<line x1="15.60" y1="370.20" x2="15.60" y2="496.30" stroke="#aaa" stroke-width="0.6" />
<line x1="10.20" y1="370.20" x2="19.50" y2="370.20" stroke="#999" stroke-width="0.7" />
<line x1="10.20" y1="496.30" x2="19.50" y2="496.30" stroke="#999" stroke-width="0.7" />
<line x1="10.20" y1="298.60" x2="19.50" y2="298.60" stroke="#999" stroke-width="0.6" />
<line x1="10.20" y1="400.60" x2="19.50" y2="400.60" stroke="#999" stroke-width="0.6" />
<line x1="10.20" y1="422.50" x2="19.50" y2="422.50" stroke="#999" stroke-width="0.6" />
<line x1="10.20" y1="445.00" x2="19.50" y2="445.00" stroke="#999" stroke-width="0.6" />
<line x1="10.20" y1="474.00" x2="19.50" y2="474.00" stroke="#999" stroke-width="0.6" />
<text x="513.30" y="351.30" font-size="4.5" fill="#2a2a2a" font-style="italic" font-weight="normal" text-anchor="start" textLength="70.1" lengthAdjust="spacingAndGlyphs" stroke="#2a2a2a" stroke-width="0.05" >1.  Угол наклона транспортера  30°</text>
<text x="513.30" y="356.35" font-size="4.5" fill="#2a2a2a" font-style="italic" font-weight="normal" text-anchor="start" textLength="183.7" lengthAdjust="spacingAndGlyphs" stroke="#2a2a2a" stroke-width="0.05" >2.  Транспортер выполняется двухцепным с крайним (боковым) расположением тяговой цепи.</text>
<text x="513.30" y="361.40" font-size="4.5" fill="#2a2a2a" font-style="italic" font-weight="normal" text-anchor="start" textLength="161.1" lengthAdjust="spacingAndGlyphs" stroke="#2a2a2a" stroke-width="0.05" >3.  Монтаж транспортера должен производиться специализированной организацией.</text>
<text x="513.30" y="366.45" font-size="4.5" fill="#2a2a2a" font-style="italic" font-weight="normal" text-anchor="start" textLength="215.5" lengthAdjust="spacingAndGlyphs" stroke="#2a2a2a" stroke-width="0.05" >4.  Порядок сборки производить в соответствии порядковыми номерами секций конвейера.  Порядковые номера</text>
<text x="513.30" y="371.50" font-size="4.5" fill="#2a2a2a" font-style="italic" font-weight="normal" text-anchor="start" textLength="124.7" lengthAdjust="spacingAndGlyphs" stroke="#2a2a2a" stroke-width="0.05" >выполнены на наружной стенке секции путем наплавки металла.</text>
<text x="513.30" y="376.55" font-size="4.5" fill="#2a2a2a" font-style="italic" font-weight="normal" text-anchor="start" textLength="218.0" lengthAdjust="spacingAndGlyphs" stroke="#2a2a2a" stroke-width="0.05" >5.  На монтаже по месту выполнить направляющую раму из двух параллельных балок на всю длину конвейера.</text>
<text x="513.30" y="381.60" font-size="4.5" fill="#2a2a2a" font-style="italic" font-weight="normal" text-anchor="start" textLength="93.5" lengthAdjust="spacingAndGlyphs" stroke="#2a2a2a" stroke-width="0.05" >Направляющую раму выполнить из швеллера  10</text>
<text x="513.30" y="386.65" font-size="4.5" fill="#2a2a2a" font-style="italic" font-weight="normal" text-anchor="start" textLength="221.5" lengthAdjust="spacingAndGlyphs" stroke="#2a2a2a" stroke-width="0.05" >6.Не допускается изменение заводского угла наклона транспортера путем изменения конфигурации поворотных</text>
<text x="513.30" y="391.70" font-size="4.5" fill="#2a2a2a" font-style="italic" font-weight="normal" text-anchor="start" textLength="14.7" lengthAdjust="spacingAndGlyphs" stroke="#2a2a2a" stroke-width="0.05" >секций.</text>
<text x="513.30" y="396.75" font-size="4.5" fill="#2a2a2a" font-style="italic" font-weight="normal" text-anchor="start" textLength="202.7" lengthAdjust="spacingAndGlyphs" stroke="#2a2a2a" stroke-width="0.05" >7.  После установки транспортера и приводной цепей и установки скребков на транспортерные цепи</text>
<text x="513.30" y="401.80" font-size="4.5" fill="#2a2a2a" font-style="italic" font-weight="normal" text-anchor="start" textLength="66.7" lengthAdjust="spacingAndGlyphs" stroke="#2a2a2a" stroke-width="0.05" >необходимо произвести натяжку цепей.</text>
<text x="513.30" y="406.85" font-size="4.5" fill="#2a2a2a" font-style="italic" font-weight="normal" text-anchor="start" textLength="162.9" lengthAdjust="spacingAndGlyphs" stroke="#2a2a2a" stroke-width="0.05" >8.  Вращение валов и движение цепей должно происходить без рывков и заеданий.</text>
<text x="513.30" y="411.90" font-size="4.5" fill="#2a2a2a" font-style="italic" font-weight="normal" text-anchor="start" textLength="211.7" lengthAdjust="spacingAndGlyphs" stroke="#2a2a2a" stroke-width="0.05" >9.Положение и изготовление загрузочных окон и загрузочных воронок выполняется по месту на монтаже.</text>
<text x="513.30" y="416.95" font-size="4.5" fill="#2a2a2a" font-style="italic" font-weight="normal" text-anchor="start" textLength="136.7" lengthAdjust="spacingAndGlyphs" stroke="#2a2a2a" stroke-width="0.05" >Загрузочные окна вырезаются в соответствующих крышках прямых секций.</text>
<text x="513.30" y="422.00" font-size="4.5" fill="#2a2a2a" font-style="italic" font-weight="normal" text-anchor="start" textLength="218.9" lengthAdjust="spacingAndGlyphs" stroke="#2a2a2a" stroke-width="0.05" >10.  Положение и изготовление разгрузочных окон и разгрузочных воронок выполняется по месту на монтаже.</text>
<text x="513.30" y="427.05" font-size="4.5" fill="#2a2a2a" font-style="italic" font-weight="normal" text-anchor="start" textLength="194.7" lengthAdjust="spacingAndGlyphs" stroke="#2a2a2a" stroke-width="0.05" >Разгрузочные окна вырезаются в соответствующих нижних стенках прямой секции между рельсами</text>
<text x="513.30" y="432.10" font-size="4.5" fill="#2a2a2a" font-style="italic" font-weight="normal" text-anchor="start" textLength="42.7" lengthAdjust="spacingAndGlyphs" stroke="#2a2a2a" stroke-width="0.05" >направляющими рамы.</text>
<text x="513.30" y="437.15" font-size="4.5" fill="#2a2a2a" font-style="italic" font-weight="normal" text-anchor="start" textLength="208.7" lengthAdjust="spacingAndGlyphs" stroke="#2a2a2a" stroke-width="0.05" >11.  Движущиеся и вращающиеся элементы транспортера должны иметь ограждения в целях безопасности.</text>
<text x="513.30" y="442.20" font-size="4.5" fill="#2a2a2a" font-style="italic" font-weight="normal" text-anchor="start" textLength="214.7" lengthAdjust="spacingAndGlyphs" stroke="#2a2a2a" stroke-width="0.05" >12.  Для выбора и расчета опорных конструкций, их количества и расположения усилия - весовая нагрузку</text>
<text x="513.30" y="447.25" font-size="4.5" fill="#2a2a2a" font-style="italic" font-weight="normal" text-anchor="start" textLength="56.4" lengthAdjust="spacingAndGlyphs" stroke="#2a2a2a" stroke-width="0.05" >принять равной  1.2 кН/п. м.</text>
<text x="70.70" y="457.80" font-size="5.3" fill="#262626" font-style="italic" font-weight="normal" text-anchor="start" textLength="271.1" lengthAdjust="spacing" stroke="#262626" stroke-width="0.1" >1, 2, 3 –  Варианты исполнения скребкового транспортера  (горизонтального,  горизонтального с</text>
<text x="74.50" y="465.20" font-size="5.3" fill="#262626" font-style="italic" font-weight="normal" text-anchor="start" textLength="265.2" lengthAdjust="spacing" stroke="#262626" stroke-width="0.1" >поворотом на подъем,  с верхним и нижним горизонтальным участком транспортировки );  а) –</text>
<text x="81.30" y="473.30" font-size="5.3" fill="#262626" font-style="italic" font-weight="normal" text-anchor="start" textLength="252.0" lengthAdjust="spacing" stroke="#262626" stroke-width="0.1" >работ транспортера с верхней натянутой цепью;  б) –   работа транспортера с нижней</text>
<text x="182.60" y="480.80" font-size="5.3" fill="#262626" font-style="italic" font-weight="normal" text-anchor="start" textLength="49.4" lengthAdjust="spacing" stroke="#262626" stroke-width="0.1" >натянутой цепью.</text>
<line x1="583.20" y1="452.66" x2="639.60" y2="452.66" stroke="#888" stroke-width="0.5" />
<line x1="583.20" y1="457.02" x2="639.60" y2="457.02" stroke="#888" stroke-width="0.5" />
<line x1="583.20" y1="461.38" x2="639.60" y2="461.38" stroke="#888" stroke-width="0.5" />
<line x1="583.20" y1="465.74" x2="639.60" y2="465.74" stroke="#666" stroke-width="1.0" />
<line x1="583.20" y1="470.10" x2="639.60" y2="470.10" stroke="#666" stroke-width="1.0" />
<line x1="583.20" y1="474.46" x2="639.60" y2="474.46" stroke="#888" stroke-width="0.5" />
<line x1="583.20" y1="478.82" x2="639.60" y2="478.82" stroke="#888" stroke-width="0.5" />
<line x1="583.20" y1="483.18" x2="639.60" y2="483.18" stroke="#888" stroke-width="0.5" />
<line x1="583.20" y1="487.54" x2="639.60" y2="487.54" stroke="#888" stroke-width="0.5" />
<line x1="583.20" y1="491.90" x2="639.60" y2="491.90" stroke="#888" stroke-width="0.5" />
<line x1="583.20" y1="448.30" x2="744.60" y2="448.30" stroke="#555" stroke-width="1.0" />
<line x1="598.10" y1="448.30" x2="598.10" y2="496.30" stroke="#666" stroke-width="0.8" />
<line x1="618.00" y1="448.30" x2="618.00" y2="496.30" stroke="#666" stroke-width="0.8" />
<line x1="631.20" y1="448.30" x2="631.20" y2="496.30" stroke="#666" stroke-width="0.8" />
<line x1="589.60" y1="448.30" x2="589.60" y2="470.10" stroke="#777" stroke-width="0.6" />
<line x1="583.20" y1="448.30" x2="583.20" y2="496.30" stroke="#555" stroke-width="1.0" />
<line x1="639.60" y1="448.30" x2="639.60" y2="496.30" stroke="#444" stroke-width="1.1" />
<text x="583.80" y="469.60" font-size="2.8" fill="#2f2f2f" font-style="italic" font-weight="normal" text-anchor="start" textLength="5.4" lengthAdjust="spacingAndGlyphs" stroke="#2f2f2f" stroke-width="0.12" >Изм.</text>
<text x="589.90" y="469.60" font-size="2.8" fill="#2f2f2f" font-style="italic" font-weight="normal" text-anchor="start" textLength="7.6" lengthAdjust="spacingAndGlyphs" stroke="#2f2f2f" stroke-width="0.12" >Лист</text>
<text x="601.00" y="469.60" font-size="3.0" fill="#2f2f2f" font-style="italic" font-weight="normal" text-anchor="start" textLength="13.0" lengthAdjust="spacingAndGlyphs" stroke="#2f2f2f" stroke-width="0.12" >№ докум.</text>
<text x="621.00" y="469.60" font-size="3.0" fill="#2f2f2f" font-style="italic" font-weight="normal" text-anchor="start" textLength="8.0" lengthAdjust="spacingAndGlyphs" stroke="#2f2f2f" stroke-width="0.12" >Подп.</text>
<text x="631.80" y="469.60" font-size="3.0" fill="#2f2f2f" font-style="italic" font-weight="normal" text-anchor="start" textLength="7.4" lengthAdjust="spacingAndGlyphs" stroke="#2f2f2f" stroke-width="0.12" >Дата</text>
<text x="583.80" y="474.00" font-size="3.0" fill="#2f2f2f" font-style="italic" font-weight="normal" text-anchor="start" stroke="#2f2f2f" stroke-width="0.12" >Разраб.</text>
<text x="583.80" y="478.36" font-size="3.0" fill="#2f2f2f" font-style="italic" font-weight="normal" text-anchor="start" stroke="#2f2f2f" stroke-width="0.12" >Пров.</text>
<text x="583.80" y="482.72" font-size="3.0" fill="#2f2f2f" font-style="italic" font-weight="normal" text-anchor="start" stroke="#2f2f2f" stroke-width="0.12" >Т.контр.</text>
<text x="583.80" y="491.44" font-size="3.0" fill="#2f2f2f" font-style="italic" font-weight="normal" text-anchor="start" stroke="#2f2f2f" stroke-width="0.12" >Н.контр.</text>
<text x="583.80" y="495.80" font-size="3.0" fill="#2f2f2f" font-style="italic" font-weight="normal" text-anchor="start" stroke="#2f2f2f" stroke-width="0.12" >Утв.</text>
<line x1="639.60" y1="461.20" x2="744.60" y2="461.20" stroke="#555" stroke-width="0.9" />
<line x1="639.60" y1="483.10" x2="744.60" y2="483.10" stroke="#555" stroke-width="0.9" />
<line x1="700.20" y1="461.20" x2="700.20" y2="496.30" stroke="#555" stroke-width="0.9" />
<line x1="700.20" y1="466.10" x2="744.60" y2="466.10" stroke="#666" stroke-width="0.6" />
<line x1="700.20" y1="479.30" x2="744.60" y2="479.30" stroke="#666" stroke-width="0.6" />
<line x1="713.20" y1="461.20" x2="713.20" y2="479.30" stroke="#666" stroke-width="0.6" />
<line x1="728.30" y1="461.20" x2="728.30" y2="483.10" stroke="#666" stroke-width="0.6" />
<line x1="704.80" y1="466.10" x2="704.80" y2="479.30" stroke="#888" stroke-width="0.5" />
<line x1="709.20" y1="466.10" x2="709.20" y2="479.30" stroke="#888" stroke-width="0.5" />
<text x="703.50" y="465.20" font-size="2.8" fill="#2f2f2f" font-style="italic" font-weight="normal" text-anchor="start" >Лит.</text>
<text x="716.00" y="465.20" font-size="2.8" fill="#2f2f2f" font-style="italic" font-weight="normal" text-anchor="start" >Масса</text>
<text x="729.00" y="465.20" font-size="2.8" fill="#2f2f2f" font-style="italic" font-weight="normal" text-anchor="start" >Масштаб</text>
<text x="731.00" y="474.60" font-size="5.6" fill="#262626" font-style="normal" font-weight="normal" text-anchor="start" textLength="9.8" lengthAdjust="spacingAndGlyphs" stroke="#262626" stroke-width="0.15" >1:20</text>
<text x="701.00" y="482.30" font-size="2.6" fill="#2f2f2f" font-style="italic" font-weight="normal" text-anchor="start" >Лист</text>
<text x="717.00" y="482.30" font-size="2.6" fill="#2f2f2f" font-style="italic" font-weight="normal" text-anchor="start" >Листов  1</text>
<text x="0" y="0" font-size="10.0" fill="#262626" font-style="italic" stroke="#262626" stroke-width="0.25" textLength="67.5" lengthAdjust="spacing" transform="translate(647.30,470.40) scale(0.6915453158076109,1)">Транспортер</text>
<text x="0" y="0" font-size="10.0" fill="#262626" font-style="italic" stroke="#262626" stroke-width="0.25" textLength="58.4" lengthAdjust="spacing" transform="translate(649.60,480.40) scale(0.6952735553657843,1)">скребковый</text>
<rect x="703.30" y="486.00" width="5.70" height="7.00" stroke="#1a1a1a" stroke-width="0.2" fill="#1a1a1a" />
<line x1="703.30" y1="487.60" x2="709.00" y2="487.60" stroke="#666" stroke-width="0.35" />
<line x1="703.30" y1="489.50" x2="709.00" y2="489.50" stroke="#666" stroke-width="0.35" />
<line x1="703.30" y1="491.40" x2="709.00" y2="491.40" stroke="#666" stroke-width="0.35" />
<text x="710.60" y="493.10" font-size="9.8" fill="#111" font-style="normal" font-weight="bold" text-anchor="start" textLength="14.8" lengthAdjust="spacingAndGlyphs" >KVZR</text>
<text x="727.30" y="489.60" font-size="2.5" fill="#777" font-style="normal" font-weight="normal" text-anchor="start" textLength="14.2" lengthAdjust="spacingAndGlyphs" >котельный</text>
<text x="727.30" y="492.60" font-size="2.5" fill="#777" font-style="normal" font-weight="normal" text-anchor="start" textLength="13.0" lengthAdjust="spacingAndGlyphs" >завод  КВЗ</text>
<text x="715.70" y="499.20" font-size="3.3" fill="#555" font-style="italic" font-weight="normal" text-anchor="start" textLength="19.3" lengthAdjust="spacingAndGlyphs" >Формат   А1</text>
<text x="0" y="0" font-size="3.3" fill="#3a3a3a" stroke="#3a3a3a" stroke-width="0.12" font-style="italic" text-anchor="middle" textLength="19" lengthAdjust="spacingAndGlyphs" transform="translate(13,273) rotate(-90) translate(0,1.15)">Перв. примен.</text>
<text x="0" y="0" font-size="3.3" fill="#3a3a3a" stroke="#3a3a3a" stroke-width="0.12" font-style="italic" text-anchor="middle" textLength="14" lengthAdjust="spacingAndGlyphs" transform="translate(13,327.5) rotate(-90) translate(0,1.15)">Справ. №</text>
<text x="0" y="0" font-size="3.3" fill="#3a3a3a" stroke="#3a3a3a" stroke-width="0.12" font-style="italic" text-anchor="middle" textLength="21" lengthAdjust="spacingAndGlyphs" transform="translate(13,387.5) rotate(-90) translate(0,1.15)">Подп. и дата</text>
<text x="0" y="0" font-size="3.3" fill="#3a3a3a" stroke="#3a3a3a" stroke-width="0.12" font-style="italic" text-anchor="middle" textLength="19" lengthAdjust="spacingAndGlyphs" transform="translate(13,411) rotate(-90) translate(0,1.15)">Инв. № дубл.</text>
<text x="0" y="0" font-size="3.3" fill="#3a3a3a" stroke="#3a3a3a" stroke-width="0.12" font-style="italic" text-anchor="middle" textLength="19.6" lengthAdjust="spacingAndGlyphs" transform="translate(13,434) rotate(-90) translate(0,1.15)">Взам. инв. №</text>
<text x="0" y="0" font-size="3.3" fill="#3a3a3a" stroke="#3a3a3a" stroke-width="0.12" font-style="italic" text-anchor="middle" textLength="24" lengthAdjust="spacingAndGlyphs" transform="translate(13,459) rotate(-90) translate(0,1.15)">Подп. и дата</text>
<text x="0" y="0" font-size="3.3" fill="#3a3a3a" stroke="#3a3a3a" stroke-width="0.12" font-style="italic" text-anchor="middle" textLength="19" lengthAdjust="spacingAndGlyphs" transform="translate(13,485.5) rotate(-90) translate(0,1.15)">Инв. № подл.</text>
<line x1="628.20" y1="45.10" x2="676.50" y2="45.10" stroke="#505050" stroke-width="0.9" />
<line x1="628.20" y1="60.30" x2="676.50" y2="60.30" stroke="#a0a0a0" stroke-width="0.5" />
<line x1="628.20" y1="46.30" x2="676.50" y2="46.30" stroke="#cccccc" stroke-width="0.4" />
<line x1="628.20" y1="59.10" x2="676.50" y2="59.10" stroke="#d6d6d6" stroke-width="0.35" />
<line x1="640.20" y1="49.66" x2="672.50" y2="49.66" stroke="#c0c0c0" stroke-width="0.5" stroke-dasharray="4,2"/>
<line x1="640.20" y1="55.74" x2="672.50" y2="55.74" stroke="#c0c0c0" stroke-width="0.5" stroke-dasharray="4,2"/>
<line x1="628.20" y1="43.90" x2="628.20" y2="61.50" stroke="#2e2e2e" stroke-width="1.2" />
<circle cx="628.20" cy="44.10" r="0.8" fill="#3c3c3c"/>
<circle cx="628.20" cy="61.30" r="0.8" fill="#3c3c3c"/>
<line x1="640.40" y1="45.10" x2="640.40" y2="60.30" stroke="#777" stroke-width="0.5" />
<circle cx="637.70" cy="45.10" r="0.5" fill="#555"/>
<circle cx="647.20" cy="45.10" r="0.5" fill="#555"/>
<circle cx="656.70" cy="45.10" r="0.5" fill="#555"/>
<circle cx="666.20" cy="45.10" r="0.5" fill="#555"/>
<rect x="630.50" y="47.70" width="9.70" height="11.40" stroke="#a0a0a0" stroke-width="0.45" fill="none" />
<circle cx="635.30" cy="53.30" r="4.00" stroke="#a8a8a8" stroke-width="0.45" fill="none"/>
<line x1="635.30" y1="50.30" x2="635.30" y2="56.30" stroke="#777" stroke-width="0.45" />
<line x1="632.30" y1="53.30" x2="638.30" y2="53.30" stroke="#777" stroke-width="0.45" />
<circle cx="631.30" cy="48.50" r="0.5" fill="#555"/>
<circle cx="639.40" cy="48.50" r="0.5" fill="#555"/>
<circle cx="631.30" cy="58.30" r="0.5" fill="#555"/>
<circle cx="639.40" cy="58.30" r="0.5" fill="#555"/>
<line x1="672.60" y1="43.90" x2="672.60" y2="61.50" stroke="#444" stroke-width="0.9" />
<line x1="676.30" y1="45.10" x2="676.30" y2="60.30" stroke="#777" stroke-width="0.5" />
<circle cx="672.60" cy="44.10" r="0.8" fill="#3c3c3c"/>
<circle cx="672.60" cy="61.30" r="0.8" fill="#3c3c3c"/>
<line x1="608.20" y1="62.50" x2="627.40" y2="51.80" stroke="#b0b0b0" stroke-width="0.5" />
<line x1="608.80" y1="65.40" x2="627.40" y2="55.00" stroke="#b0b0b0" stroke-width="0.5" />
<line x1="610.50" y1="68.80" x2="627.40" y2="59.60" stroke="#b0b0b0" stroke-width="0.5" />
<line x1="611.00" y1="71.60" x2="627.40" y2="62.50" stroke="#b0b0b0" stroke-width="0.5" />
<line x1="612.00" y1="64.60" x2="616.00" y2="62.40" stroke="#888" stroke-width="0.45" />
<line x1="614.00" y1="70.00" x2="618.00" y2="67.80" stroke="#888" stroke-width="0.45" />
<rect x="596.30" y="63.70" width="13.10" height="17.60" stroke="#b0b0b0" stroke-width="0.55" fill="none" />
<circle cx="603.00" cy="71.80" r="6.40" stroke="#bdbdbd" stroke-width="0.6" fill="none"/>
<line x1="603.00" y1="64.50" x2="603.00" y2="80.50" stroke="#c8c8c8" stroke-width="0.4" />
<path d="M 601 63.7 L 601 62.6 L 607 62.6 L 607 63.7" stroke="#777" stroke-width="0.6" fill="none" />
<line x1="588.80" y1="81.90" x2="614.50" y2="81.90" stroke="#666" stroke-width="0.8" />
<rect x="586.60" y="81.90" width="34.70" height="5.70" stroke="#a8a8a8" stroke-width="0.55" fill="none" />
<line x1="604.00" y1="81.90" x2="604.00" y2="87.60" stroke="#c8c8c8" stroke-width="0.4" />
<rect x="611.80" y="80.80" width="2.60" height="1.20" stroke="#555" stroke-width="0.4" fill="#666" />
<line x1="586.60" y1="90.60" x2="589.60" y2="87.60" stroke="#c8c8c8" stroke-width="0.35" />
<line x1="588.20" y1="90.60" x2="591.20" y2="87.60" stroke="#c8c8c8" stroke-width="0.35" />
<line x1="589.80" y1="90.60" x2="592.80" y2="87.60" stroke="#c8c8c8" stroke-width="0.35" />
<line x1="591.40" y1="90.60" x2="594.40" y2="87.60" stroke="#c8c8c8" stroke-width="0.35" />
<line x1="593.00" y1="90.60" x2="596.00" y2="87.60" stroke="#c8c8c8" stroke-width="0.35" />
<line x1="594.60" y1="90.60" x2="597.60" y2="87.60" stroke="#c8c8c8" stroke-width="0.35" />
<line x1="596.20" y1="90.60" x2="599.20" y2="87.60" stroke="#c8c8c8" stroke-width="0.35" />
<line x1="597.80" y1="90.60" x2="600.80" y2="87.60" stroke="#c8c8c8" stroke-width="0.35" />
<line x1="599.40" y1="90.60" x2="602.40" y2="87.60" stroke="#c8c8c8" stroke-width="0.35" />
<line x1="601.00" y1="90.60" x2="604.00" y2="87.60" stroke="#c8c8c8" stroke-width="0.35" />
<line x1="602.60" y1="90.60" x2="605.60" y2="87.60" stroke="#c8c8c8" stroke-width="0.35" />
<line x1="604.20" y1="90.60" x2="607.20" y2="87.60" stroke="#c8c8c8" stroke-width="0.35" />
<line x1="605.80" y1="90.60" x2="608.80" y2="87.60" stroke="#c8c8c8" stroke-width="0.35" />
<line x1="607.40" y1="90.60" x2="610.40" y2="87.60" stroke="#c8c8c8" stroke-width="0.35" />
<line x1="609.00" y1="90.60" x2="612.00" y2="87.60" stroke="#c8c8c8" stroke-width="0.35" />
<line x1="610.60" y1="90.60" x2="613.60" y2="87.60" stroke="#c8c8c8" stroke-width="0.35" />
<line x1="612.20" y1="90.60" x2="615.20" y2="87.60" stroke="#c8c8c8" stroke-width="0.35" />
<line x1="613.80" y1="90.60" x2="616.80" y2="87.60" stroke="#c8c8c8" stroke-width="0.35" />
<line x1="615.40" y1="90.60" x2="618.40" y2="87.60" stroke="#c8c8c8" stroke-width="0.35" />
<line x1="617.00" y1="90.60" x2="620.00" y2="87.60" stroke="#c8c8c8" stroke-width="0.35" />
<line x1="618.60" y1="90.60" x2="621.30" y2="87.60" stroke="#c8c8c8" stroke-width="0.35" />
<line x1="620.20" y1="90.60" x2="621.30" y2="87.60" stroke="#c8c8c8" stroke-width="0.35" />
<line x1="586.60" y1="87.60" x2="621.30" y2="87.60" stroke="#9a9a9a" stroke-width="0.5" />
<line x1="628.00" y1="121.30" x2="677.00" y2="121.30" stroke="#505050" stroke-width="0.9" />
<line x1="628.00" y1="136.10" x2="677.00" y2="136.10" stroke="#a0a0a0" stroke-width="0.5" />
<line x1="628.00" y1="122.50" x2="677.00" y2="122.50" stroke="#cccccc" stroke-width="0.4" />
<line x1="628.00" y1="134.90" x2="677.00" y2="134.90" stroke="#d6d6d6" stroke-width="0.35" />
<line x1="640.00" y1="125.74" x2="673.00" y2="125.74" stroke="#c0c0c0" stroke-width="0.5" stroke-dasharray="4,2"/>
<line x1="640.00" y1="131.66" x2="673.00" y2="131.66" stroke="#c0c0c0" stroke-width="0.5" stroke-dasharray="4,2"/>
<line x1="628.00" y1="120.10" x2="628.00" y2="137.30" stroke="#2e2e2e" stroke-width="1.2" />
<circle cx="628.00" cy="120.30" r="0.8" fill="#3c3c3c"/>
<circle cx="628.00" cy="137.10" r="0.8" fill="#3c3c3c"/>
<line x1="640.40" y1="121.30" x2="640.40" y2="136.10" stroke="#777" stroke-width="0.5" />
<circle cx="637.50" cy="121.30" r="0.5" fill="#555"/>
<circle cx="647.00" cy="121.30" r="0.5" fill="#555"/>
<circle cx="656.50" cy="121.30" r="0.5" fill="#555"/>
<circle cx="666.00" cy="121.30" r="0.5" fill="#555"/>
<rect x="630.20" y="123.60" width="10.20" height="11.00" stroke="#a0a0a0" stroke-width="0.45" fill="none" />
<circle cx="635.60" cy="128.90" r="4.40" stroke="#a8a8a8" stroke-width="0.45" fill="none"/>
<line x1="635.60" y1="125.60" x2="635.60" y2="132.20" stroke="#777" stroke-width="0.45" />
<line x1="632.30" y1="128.90" x2="638.90" y2="128.90" stroke="#777" stroke-width="0.45" />
<circle cx="631.00" cy="124.40" r="0.5" fill="#555"/>
<circle cx="639.60" cy="124.40" r="0.5" fill="#555"/>
<circle cx="631.00" cy="134.00" r="0.5" fill="#555"/>
<circle cx="639.60" cy="134.00" r="0.5" fill="#555"/>
<line x1="673.30" y1="120.10" x2="673.30" y2="137.30" stroke="#444" stroke-width="0.9" />
<line x1="677.00" y1="121.30" x2="677.00" y2="136.10" stroke="#777" stroke-width="0.5" />
<circle cx="673.30" cy="120.30" r="0.8" fill="#3c3c3c"/>
<circle cx="673.30" cy="137.10" r="0.8" fill="#3c3c3c"/>
<rect x="596.70" y="113.30" width="14.00" height="18.00" stroke="#b0b0b0" stroke-width="0.55" fill="none" />
<circle cx="604.00" cy="122.70" r="6.20" stroke="#bdbdbd" stroke-width="0.6" fill="none"/>
<rect x="610.70" y="118.90" width="15.30" height="4.40" stroke="#b4b4b4" stroke-width="0.5" fill="none" />
<rect x="610.70" y="126.50" width="15.30" height="4.40" stroke="#b4b4b4" stroke-width="0.5" fill="none" />
<line x1="613.00" y1="120.00" x2="617.00" y2="122.00" stroke="#888" stroke-width="0.45" />
<line x1="613.00" y1="127.60" x2="617.00" y2="129.60" stroke="#888" stroke-width="0.45" />
<line x1="588.70" y1="132.00" x2="614.70" y2="132.00" stroke="#666" stroke-width="0.8" />
<rect x="587.30" y="132.00" width="34.70" height="4.70" stroke="#a8a8a8" stroke-width="0.55" fill="none" />
<rect x="612.00" y="130.80" width="2.60" height="1.30" stroke="#555" stroke-width="0.4" fill="#666" />
<line x1="587.30" y1="140.00" x2="590.60" y2="136.70" stroke="#c8c8c8" stroke-width="0.35" />
<line x1="588.90" y1="140.00" x2="592.20" y2="136.70" stroke="#c8c8c8" stroke-width="0.35" />
<line x1="590.50" y1="140.00" x2="593.80" y2="136.70" stroke="#c8c8c8" stroke-width="0.35" />
<line x1="592.10" y1="140.00" x2="595.40" y2="136.70" stroke="#c8c8c8" stroke-width="0.35" />
<line x1="593.70" y1="140.00" x2="597.00" y2="136.70" stroke="#c8c8c8" stroke-width="0.35" />
<line x1="595.30" y1="140.00" x2="598.60" y2="136.70" stroke="#c8c8c8" stroke-width="0.35" />
<line x1="596.90" y1="140.00" x2="600.20" y2="136.70" stroke="#c8c8c8" stroke-width="0.35" />
<line x1="598.50" y1="140.00" x2="601.80" y2="136.70" stroke="#c8c8c8" stroke-width="0.35" />
<line x1="600.10" y1="140.00" x2="603.40" y2="136.70" stroke="#c8c8c8" stroke-width="0.35" />
<line x1="601.70" y1="140.00" x2="605.00" y2="136.70" stroke="#c8c8c8" stroke-width="0.35" />
<line x1="603.30" y1="140.00" x2="606.60" y2="136.70" stroke="#c8c8c8" stroke-width="0.35" />
<line x1="604.90" y1="140.00" x2="608.20" y2="136.70" stroke="#c8c8c8" stroke-width="0.35" />
<line x1="606.50" y1="140.00" x2="609.80" y2="136.70" stroke="#c8c8c8" stroke-width="0.35" />
<line x1="608.10" y1="140.00" x2="611.40" y2="136.70" stroke="#c8c8c8" stroke-width="0.35" />
<line x1="609.70" y1="140.00" x2="613.00" y2="136.70" stroke="#c8c8c8" stroke-width="0.35" />
<line x1="611.30" y1="140.00" x2="614.60" y2="136.70" stroke="#c8c8c8" stroke-width="0.35" />
<line x1="612.90" y1="140.00" x2="616.20" y2="136.70" stroke="#c8c8c8" stroke-width="0.35" />
<line x1="614.50" y1="140.00" x2="617.80" y2="136.70" stroke="#c8c8c8" stroke-width="0.35" />
<line x1="616.10" y1="140.00" x2="619.40" y2="136.70" stroke="#c8c8c8" stroke-width="0.35" />
<line x1="617.70" y1="140.00" x2="621.00" y2="136.70" stroke="#c8c8c8" stroke-width="0.35" />
<line x1="619.30" y1="140.00" x2="622.00" y2="136.70" stroke="#c8c8c8" stroke-width="0.35" />
<line x1="620.90" y1="140.00" x2="622.00" y2="136.70" stroke="#c8c8c8" stroke-width="0.35" />
<line x1="587.30" y1="136.70" x2="622.00" y2="136.70" stroke="#9a9a9a" stroke-width="0.5" />
<line x1="626.00" y1="140.30" x2="628.70" y2="137.60" stroke="#c8c8c8" stroke-width="0.35" />
<line x1="627.60" y1="140.30" x2="630.30" y2="137.60" stroke="#c8c8c8" stroke-width="0.35" />
<line x1="629.20" y1="140.30" x2="631.90" y2="137.60" stroke="#c8c8c8" stroke-width="0.35" />
<line x1="630.80" y1="140.30" x2="633.50" y2="137.60" stroke="#c8c8c8" stroke-width="0.35" />
<line x1="632.40" y1="140.30" x2="635.10" y2="137.60" stroke="#c8c8c8" stroke-width="0.35" />
<line x1="634.00" y1="140.30" x2="636.70" y2="137.60" stroke="#c8c8c8" stroke-width="0.35" />
<line x1="635.60" y1="140.30" x2="638.30" y2="137.60" stroke="#c8c8c8" stroke-width="0.35" />
<line x1="637.20" y1="140.30" x2="639.90" y2="137.60" stroke="#c8c8c8" stroke-width="0.35" />
<line x1="638.80" y1="140.30" x2="641.50" y2="137.60" stroke="#c8c8c8" stroke-width="0.35" />
<line x1="640.40" y1="140.30" x2="643.10" y2="137.60" stroke="#c8c8c8" stroke-width="0.35" />
<line x1="642.00" y1="140.30" x2="644.70" y2="137.60" stroke="#c8c8c8" stroke-width="0.35" />
<line x1="643.60" y1="140.30" x2="646.30" y2="137.60" stroke="#c8c8c8" stroke-width="0.35" />
<line x1="645.20" y1="140.30" x2="647.90" y2="137.60" stroke="#c8c8c8" stroke-width="0.35" />
<line x1="646.80" y1="140.30" x2="649.50" y2="137.60" stroke="#c8c8c8" stroke-width="0.35" />
<line x1="648.40" y1="140.30" x2="651.10" y2="137.60" stroke="#c8c8c8" stroke-width="0.35" />
<line x1="650.00" y1="140.30" x2="652.70" y2="137.60" stroke="#c8c8c8" stroke-width="0.35" />
<line x1="651.60" y1="140.30" x2="654.30" y2="137.60" stroke="#c8c8c8" stroke-width="0.35" />
<line x1="653.20" y1="140.30" x2="655.90" y2="137.60" stroke="#c8c8c8" stroke-width="0.35" />
<line x1="654.80" y1="140.30" x2="657.50" y2="137.60" stroke="#c8c8c8" stroke-width="0.35" />
<line x1="656.40" y1="140.30" x2="659.10" y2="137.60" stroke="#c8c8c8" stroke-width="0.35" />
<line x1="658.00" y1="140.30" x2="660.70" y2="137.60" stroke="#c8c8c8" stroke-width="0.35" />
<line x1="659.60" y1="140.30" x2="662.30" y2="137.60" stroke="#c8c8c8" stroke-width="0.35" />
<line x1="661.20" y1="140.30" x2="663.90" y2="137.60" stroke="#c8c8c8" stroke-width="0.35" />
<line x1="662.80" y1="140.30" x2="665.50" y2="137.60" stroke="#c8c8c8" stroke-width="0.35" />
<line x1="664.40" y1="140.30" x2="667.10" y2="137.60" stroke="#c8c8c8" stroke-width="0.35" />
<line x1="666.00" y1="140.30" x2="668.70" y2="137.60" stroke="#c8c8c8" stroke-width="0.35" />
<line x1="667.60" y1="140.30" x2="670.30" y2="137.60" stroke="#c8c8c8" stroke-width="0.35" />
<line x1="669.20" y1="140.30" x2="671.90" y2="137.60" stroke="#c8c8c8" stroke-width="0.35" />
<line x1="670.80" y1="140.30" x2="673.50" y2="137.60" stroke="#c8c8c8" stroke-width="0.35" />
<line x1="672.40" y1="140.30" x2="675.10" y2="137.60" stroke="#c8c8c8" stroke-width="0.35" />
<line x1="674.00" y1="140.30" x2="676.70" y2="137.60" stroke="#c8c8c8" stroke-width="0.35" />
<line x1="675.60" y1="140.30" x2="678.00" y2="137.60" stroke="#c8c8c8" stroke-width="0.35" />
<line x1="677.20" y1="140.30" x2="678.00" y2="137.60" stroke="#c8c8c8" stroke-width="0.35" />
<line x1="626.00" y1="137.60" x2="678.00" y2="137.60" stroke="#9a9a9a" stroke-width="0.5" />
<rect x="586.20" y="174.50" width="35.50" height="43.80" stroke="#8e8e8e" stroke-width="0.6" fill="none" />
<line x1="586.20" y1="199.60" x2="621.70" y2="199.60" stroke="#8e8e8e" stroke-width="0.6" />
<line x1="586.20" y1="216.00" x2="621.70" y2="216.00" stroke="#a0a0a0" stroke-width="0.5" />
<rect x="597.40" y="199.60" width="12.60" height="15.20" stroke="#909090" stroke-width="0.5" fill="none" />
<line x1="597.40" y1="200.80" x2="610.00" y2="200.80" stroke="#a8a8a8" stroke-width="0.4" />
<line x1="597.40" y1="202.05" x2="610.00" y2="202.05" stroke="#a8a8a8" stroke-width="0.4" />
<line x1="597.40" y1="203.30" x2="610.00" y2="203.30" stroke="#a8a8a8" stroke-width="0.4" />
<line x1="597.40" y1="204.55" x2="610.00" y2="204.55" stroke="#a8a8a8" stroke-width="0.4" />
<line x1="597.40" y1="205.80" x2="610.00" y2="205.80" stroke="#a8a8a8" stroke-width="0.4" />
<line x1="597.40" y1="207.05" x2="610.00" y2="207.05" stroke="#a8a8a8" stroke-width="0.4" />
<line x1="597.40" y1="208.30" x2="610.00" y2="208.30" stroke="#a8a8a8" stroke-width="0.4" />
<line x1="597.40" y1="209.55" x2="610.00" y2="209.55" stroke="#a8a8a8" stroke-width="0.4" />
<line x1="597.40" y1="210.80" x2="610.00" y2="210.80" stroke="#a8a8a8" stroke-width="0.4" />
<line x1="597.40" y1="212.05" x2="610.00" y2="212.05" stroke="#a8a8a8" stroke-width="0.4" />
<line x1="597.40" y1="213.30" x2="610.00" y2="213.30" stroke="#a8a8a8" stroke-width="0.4" />
<line x1="597.40" y1="214.55" x2="610.00" y2="214.55" stroke="#a8a8a8" stroke-width="0.4" />
<line x1="588.00" y1="183.60" x2="611.50" y2="183.60" stroke="#666" stroke-width="0.7" />
<path d="M 588 183.6 L 591 182.4 L 591 184.8 Z" stroke="#666" stroke-width="0.4" fill="#666" />
<rect x="611.50" y="183.00" width="3.20" height="13.00" stroke="#8a8a8a" stroke-width="0.5" fill="none" />
<line x1="588.00" y1="196.00" x2="611.50" y2="196.00" stroke="#a8a8a8" stroke-width="0.5" />
<line x1="614.70" y1="178.50" x2="640.60" y2="178.50" stroke="#999" stroke-width="0.5" />
<line x1="614.70" y1="181.00" x2="640.60" y2="181.00" stroke="#999" stroke-width="0.5" />
<rect x="635.00" y="181.00" width="5.60" height="5.00" stroke="#8a8a8a" stroke-width="0.5" fill="none" />
<line x1="627.80" y1="186.00" x2="627.80" y2="204.40" stroke="#2e2e2e" stroke-width="1.1" />
<line x1="627.80" y1="186.40" x2="679.00" y2="186.40" stroke="#9a9a9a" stroke-width="0.5" />
<line x1="627.80" y1="204.00" x2="679.00" y2="204.00" stroke="#9a9a9a" stroke-width="0.5" />
<line x1="627.80" y1="188.20" x2="673.00" y2="188.20" stroke="#bdbdbd" stroke-width="0.45" stroke-dasharray="4,2"/>
<line x1="627.80" y1="202.20" x2="673.00" y2="202.20" stroke="#bdbdbd" stroke-width="0.45" stroke-dasharray="4,2"/>
<line x1="627.80" y1="195.20" x2="679.00" y2="195.20" stroke="#d0d0d0" stroke-width="0.4" stroke-dasharray="6,2,1,2"/>
<line x1="673.40" y1="185.50" x2="673.40" y2="205.00" stroke="#444" stroke-width="0.9" />
<line x1="676.00" y1="186.40" x2="676.00" y2="204.00" stroke="#888" stroke-width="0.5" />
<line x1="636.00" y1="186.40" x2="636.00" y2="204.00" stroke="#b8b8b8" stroke-width="0.45" stroke-dasharray="2,1"/>
<rect x="633.20" y="186.40" width="8.00" height="2.20" stroke="#888" stroke-width="0.4" fill="none" />
<rect x="633.20" y="201.80" width="8.00" height="2.20" stroke="#888" stroke-width="0.4" fill="none" />
<rect x="586.20" y="245.60" width="35.50" height="43.20" stroke="#8e8e8e" stroke-width="0.6" fill="none" />
<line x1="586.20" y1="264.80" x2="621.70" y2="264.80" stroke="#8e8e8e" stroke-width="0.6" />
<rect x="589.40" y="247.70" width="20.60" height="14.70" stroke="#909090" stroke-width="0.5" fill="none" />
<line x1="610.00" y1="247.70" x2="621.70" y2="247.70" stroke="#a0a0a0" stroke-width="0.4" />
<line x1="588.00" y1="267.00" x2="611.50" y2="267.00" stroke="#666" stroke-width="0.7" />
<line x1="588.00" y1="280.80" x2="611.50" y2="280.80" stroke="#666" stroke-width="0.7" />
<path d="M 588 267 L 591 265.8 L 591 268.2 Z" stroke="#666" stroke-width="0.4" fill="#666" />
<path d="M 588 280.8 L 591 279.6 L 591 282 Z" stroke="#666" stroke-width="0.4" fill="#666" />
<rect x="611.50" y="267.00" width="3.20" height="13.80" stroke="#8a8a8a" stroke-width="0.5" fill="none" />
<line x1="586.20" y1="286.50" x2="621.70" y2="286.50" stroke="#a0a0a0" stroke-width="0.5" />
<line x1="614.70" y1="282.00" x2="640.60" y2="282.00" stroke="#999" stroke-width="0.5" />
<line x1="614.70" y1="284.50" x2="640.60" y2="284.50" stroke="#999" stroke-width="0.5" />
<rect x="635.00" y="284.50" width="5.60" height="5.00" stroke="#8a8a8a" stroke-width="0.5" fill="none" />
<line x1="627.80" y1="289.30" x2="627.80" y2="307.20" stroke="#2e2e2e" stroke-width="1.1" />
<line x1="627.80" y1="289.70" x2="679.00" y2="289.70" stroke="#9a9a9a" stroke-width="0.5" />
<line x1="627.80" y1="306.80" x2="679.00" y2="306.80" stroke="#9a9a9a" stroke-width="0.5" />
<line x1="627.80" y1="291.50" x2="673.00" y2="291.50" stroke="#bdbdbd" stroke-width="0.45" stroke-dasharray="4,2"/>
<line x1="627.80" y1="305.00" x2="673.00" y2="305.00" stroke="#bdbdbd" stroke-width="0.45" stroke-dasharray="4,2"/>
<line x1="627.80" y1="298.30" x2="679.00" y2="298.30" stroke="#d0d0d0" stroke-width="0.4" stroke-dasharray="6,2,1,2"/>
<line x1="673.40" y1="288.80" x2="673.40" y2="308.00" stroke="#444" stroke-width="0.9" />
<line x1="676.00" y1="289.70" x2="676.00" y2="306.80" stroke="#888" stroke-width="0.5" />
<line x1="636.00" y1="289.70" x2="636.00" y2="306.80" stroke="#b8b8b8" stroke-width="0.45" stroke-dasharray="2,1"/>
<rect x="633.20" y="289.70" width="8.00" height="2.20" stroke="#888" stroke-width="0.4" fill="none" />
<rect x="633.20" y="304.60" width="8.00" height="2.20" stroke="#888" stroke-width="0.4" fill="none" />
<rect x="56.50" y="72.00" width="14.80" height="18.70" stroke="#c4c4c4" stroke-width="0.5" fill="none" rx="3"/>
<circle cx="63.90" cy="81.00" r="6.40" stroke="#c8c8c8" stroke-width="0.55" fill="none"/>
<line x1="63.90" y1="74.90" x2="63.90" y2="87.40" stroke="#bdbdbd" stroke-width="0.4" />
<line x1="57.50" y1="81.00" x2="70.30" y2="81.00" stroke="#bdbdbd" stroke-width="0.4" />
<path d="M 61 72.00 L 61 71.00 L 66.5 71.00 L 66.5 72.00" stroke="#777" stroke-width="0.6" fill="none" />
<rect x="71.30" y="76.60" width="12.50" height="5.20" stroke="#bdbdbd" stroke-width="0.5" fill="none" />
<rect x="71.30" y="83.70" width="12.50" height="5.60" stroke="#bdbdbd" stroke-width="0.5" fill="none" />
<line x1="74.00" y1="78.40" x2="82.00" y2="80.40" stroke="#888" stroke-width="0.5" />
<line x1="74.00" y1="85.60" x2="82.00" y2="87.60" stroke="#888" stroke-width="0.5" />
<line x1="71.30" y1="74.60" x2="86.00" y2="77.90" stroke="#bdbdbd" stroke-width="0.4" />
<line x1="71.30" y1="89.40" x2="88.00" y2="89.40" stroke="#bdbdbd" stroke-width="0.4" />
<rect x="47.20" y="90.70" width="34.10" height="5.80" stroke="#b4b4b4" stroke-width="0.5" fill="none" />
<line x1="64.40" y1="90.70" x2="64.40" y2="96.50" stroke="#bdbdbd" stroke-width="0.5" />
<line x1="48.00" y1="90.50" x2="76.00" y2="90.50" stroke="#666" stroke-width="0.8" />
<rect x="76.30" y="89.40" width="2.80" height="1.40" stroke="#555" stroke-width="0.4" fill="#666" />
<line x1="88.30" y1="78.00" x2="88.30" y2="95.70" stroke="#2e2e2e" stroke-width="1.2" />
<circle cx="88.30" cy="78.20" r="0.85" fill="#3c3c3c"/>
<circle cx="88.30" cy="95.50" r="0.85" fill="#3c3c3c"/>
<line x1="90.00" y1="79.40" x2="90.00" y2="94.30" stroke="#888" stroke-width="0.5" />
<rect x="90.60" y="81.40" width="10.40" height="11.40" stroke="#b4b4b4" stroke-width="0.45" fill="none" />
<circle cx="95.80" cy="87.10" r="4.60" stroke="#b0b0b0" stroke-width="0.5" fill="none"/>
<line x1="95.80" y1="84.20" x2="95.80" y2="90.00" stroke="#999" stroke-width="0.45" />
<line x1="92.90" y1="87.10" x2="98.70" y2="87.10" stroke="#999" stroke-width="0.45" />
<circle cx="91.30" cy="82.10" r="0.55" fill="#555"/>
<circle cx="100.40" cy="82.10" r="0.55" fill="#555"/>
<circle cx="91.30" cy="92.20" r="0.55" fill="#555"/>
<circle cx="100.40" cy="92.20" r="0.55" fill="#555"/>
<line x1="88.30" y1="79.40" x2="235.20" y2="79.40" stroke="#505050" stroke-width="0.95" />
<line x1="88.30" y1="80.70" x2="235.20" y2="80.70" stroke="#c4c4c4" stroke-width="0.4" />
<line x1="88.30" y1="94.30" x2="235.20" y2="94.30" stroke="#a4a4a4" stroke-width="0.5" />
<line x1="88.30" y1="93.00" x2="235.20" y2="93.00" stroke="#d8d8d8" stroke-width="0.35" />
<line x1="88.30" y1="83.40" x2="235.20" y2="83.40" stroke="#b4b4b4" stroke-width="0.5" stroke-dasharray="5,2"/>
<line x1="88.30" y1="90.20" x2="235.20" y2="90.20" stroke="#b8b8b8" stroke-width="0.5" stroke-dasharray="5,2"/>
<circle cx="99.10" cy="79.40" r="0.6" fill="#555"/>
<circle cx="109.90" cy="79.40" r="0.6" fill="#555"/>
<circle cx="120.70" cy="79.40" r="0.6" fill="#555"/>
<circle cx="131.50" cy="79.40" r="0.6" fill="#555"/>
<circle cx="142.30" cy="79.40" r="0.6" fill="#555"/>
<circle cx="153.10" cy="79.40" r="0.6" fill="#555"/>
<circle cx="163.90" cy="79.40" r="0.6" fill="#555"/>
<circle cx="174.70" cy="79.40" r="0.6" fill="#555"/>
<circle cx="185.50" cy="79.40" r="0.6" fill="#555"/>
<circle cx="196.30" cy="79.40" r="0.6" fill="#555"/>
<circle cx="207.10" cy="79.40" r="0.6" fill="#555"/>
<circle cx="217.90" cy="79.40" r="0.6" fill="#555"/>
<circle cx="228.70" cy="79.40" r="0.6" fill="#555"/>
<line x1="240.60" y1="79.40" x2="258.50" y2="79.40" stroke="#505050" stroke-width="0.95" />
<line x1="240.60" y1="80.70" x2="258.50" y2="80.70" stroke="#c4c4c4" stroke-width="0.4" />
<line x1="240.60" y1="94.30" x2="258.50" y2="94.30" stroke="#a4a4a4" stroke-width="0.5" />
<line x1="240.60" y1="93.00" x2="258.50" y2="93.00" stroke="#d8d8d8" stroke-width="0.35" />
<line x1="240.60" y1="83.40" x2="258.50" y2="83.40" stroke="#b4b4b4" stroke-width="0.5" stroke-dasharray="5,2"/>
<line x1="240.60" y1="90.20" x2="258.50" y2="90.20" stroke="#b8b8b8" stroke-width="0.5" stroke-dasharray="5,2"/>
<circle cx="251.40" cy="79.40" r="0.6" fill="#555"/>
<line x1="133.30" y1="78.20" x2="133.30" y2="95.50" stroke="#4a4a4a" stroke-width="0.65" />
<line x1="131.50" y1="79.40" x2="131.50" y2="94.30" stroke="#aaa" stroke-width="0.45" />
<circle cx="133.30" cy="78.40" r="0.85" fill="#3c3c3c"/>
<circle cx="133.30" cy="95.30" r="0.85" fill="#3c3c3c"/>
<circle cx="133.30" cy="86.85" r="0.45" fill="#3c3c3c"/>
<line x1="220.50" y1="78.20" x2="220.50" y2="95.50" stroke="#4a4a4a" stroke-width="0.65" />
<line x1="218.70" y1="79.40" x2="218.70" y2="94.30" stroke="#aaa" stroke-width="0.45" />
<circle cx="220.50" cy="78.40" r="0.85" fill="#3c3c3c"/>
<circle cx="220.50" cy="95.30" r="0.85" fill="#3c3c3c"/>
<circle cx="220.50" cy="86.85" r="0.45" fill="#3c3c3c"/>
<rect x="147.60" y="72.40" width="16.90" height="7.00" stroke="#9a9a9a" stroke-width="0.5" fill="none" />
<line x1="147.20" y1="72.40" x2="165.00" y2="72.40" stroke="#555" stroke-width="0.9" />
<line x1="147.60" y1="73.60" x2="164.50" y2="73.60" stroke="#aaa" stroke-width="0.4" />
<line x1="258.50" y1="79.40" x2="308.00" y2="79.40" stroke="#505050" stroke-width="0.95" />
<line x1="258.50" y1="80.70" x2="308.00" y2="80.70" stroke="#c4c4c4" stroke-width="0.4" />
<line x1="258.50" y1="94.30" x2="308.00" y2="94.30" stroke="#a4a4a4" stroke-width="0.5" />
<line x1="258.50" y1="93.00" x2="308.00" y2="93.00" stroke="#d8d8d8" stroke-width="0.35" />
<line x1="258.50" y1="83.40" x2="308.00" y2="83.40" stroke="#b4b4b4" stroke-width="0.5" stroke-dasharray="5,2"/>
<line x1="258.50" y1="90.20" x2="308.00" y2="90.20" stroke="#b8b8b8" stroke-width="0.5" stroke-dasharray="5,2"/>
<circle cx="269.30" cy="79.40" r="0.6" fill="#555"/>
<circle cx="280.10" cy="79.40" r="0.6" fill="#555"/>
<circle cx="290.90" cy="79.40" r="0.6" fill="#555"/>
<circle cx="301.70" cy="79.40" r="0.6" fill="#555"/>
<line x1="258.00" y1="78.20" x2="258.00" y2="95.50" stroke="#4a4a4a" stroke-width="0.65" />
<line x1="256.20" y1="79.40" x2="256.20" y2="94.30" stroke="#aaa" stroke-width="0.45" />
<circle cx="258.00" cy="78.40" r="0.85" fill="#3c3c3c"/>
<circle cx="258.00" cy="95.30" r="0.85" fill="#3c3c3c"/>
<circle cx="258.00" cy="86.85" r="0.45" fill="#3c3c3c"/>
<line x1="308.00" y1="78.40" x2="308.00" y2="95.30" stroke="#3a3a3a" stroke-width="0.8" />
<circle cx="308.00" cy="78.60" r="0.85" fill="#3c3c3c"/>
<circle cx="308.00" cy="95.10" r="0.85" fill="#3c3c3c"/>
<line x1="290.60" y1="79.40" x2="290.60" y2="92.30" stroke="#9a9a9a" stroke-width="0.5" stroke-dasharray="2,1"/>
<line x1="300.40" y1="81.40" x2="300.40" y2="92.30" stroke="#9a9a9a" stroke-width="0.5" stroke-dasharray="2,1"/>
<line x1="289.30" y1="87.40" x2="291.90" y2="87.40" stroke="#6a6a6a" stroke-width="0.5" />
<line x1="290.60" y1="86.10" x2="290.60" y2="88.70" stroke="#6a6a6a" stroke-width="0.5" />
<line x1="299.10" y1="87.40" x2="301.70" y2="87.40" stroke="#6a6a6a" stroke-width="0.5" />
<line x1="300.40" y1="86.10" x2="300.40" y2="88.70" stroke="#6a6a6a" stroke-width="0.5" />
<line x1="292.70" y1="87.40" x2="295.30" y2="87.40" stroke="#6a6a6a" stroke-width="0.5" />
<line x1="294.00" y1="86.10" x2="294.00" y2="88.70" stroke="#6a6a6a" stroke-width="0.5" />
<line x1="302.00" y1="87.40" x2="312.00" y2="87.40" stroke="#9a9a9a" stroke-width="0.5" />
<circle cx="290.60" cy="81.90" r="0.6" fill="#3c3c3c"/>
<circle cx="300.40" cy="81.90" r="0.6" fill="#3c3c3c"/>
<circle cx="290.60" cy="92.90" r="0.6" fill="#3c3c3c"/>
<circle cx="300.40" cy="92.90" r="0.6" fill="#3c3c3c"/>
<path d="M 304.5 79.40 L 308 78.90" stroke="#3c3c3c" stroke-width="0.8" fill="none" />
<line x1="285.00" y1="94.30" x2="285.00" y2="99.40" stroke="#bdbdbd" stroke-width="0.5" />
<line x1="297.70" y1="94.30" x2="297.70" y2="99.40" stroke="#bdbdbd" stroke-width="0.5" />
<path d="M 283.6 99.40 L 298.6 99.40 L 297.2 100.90 L 285 100.90 Z" stroke="#6a6a6a" stroke-width="0.6" fill="none" />
<line x1="284.00" y1="100.70" x2="298.00" y2="100.70" stroke="#444" stroke-width="1.0" />
<text x="54.40" y="58.30" font-size="5.6" fill="#333" font-style="normal" font-weight="normal" text-anchor="middle" stroke="#333" stroke-width="0.12" >4</text>
<text x="88.60" y="58.60" font-size="5.6" fill="#333" font-style="normal" font-weight="normal" text-anchor="middle" stroke="#333" stroke-width="0.12" >6</text>
<text x="124.60" y="65.00" font-size="5.6" fill="#333" font-style="normal" font-weight="normal" text-anchor="middle" stroke="#333" stroke-width="0.12" >2</text>
<text x="149.60" y="65.00" font-size="5.6" fill="#333" font-style="normal" font-weight="normal" text-anchor="middle" stroke="#333" stroke-width="0.12" >7</text>
<text x="178.00" y="65.00" font-size="5.6" fill="#333" font-style="normal" font-weight="normal" text-anchor="middle" stroke="#333" stroke-width="0.12" >3</text>
<text x="69.60" y="109.40" font-size="5.6" fill="#333" font-style="normal" font-weight="normal" text-anchor="middle" stroke="#333" stroke-width="0.12" >5</text>
<text x="270.20" y="105.40" font-size="5.6" fill="#333" font-style="normal" font-weight="normal" text-anchor="middle" stroke="#333" stroke-width="0.12" >1</text>
<text x="283.50" y="113.40" font-size="5.6" fill="#333" font-style="normal" font-weight="normal" text-anchor="middle" stroke="#333" stroke-width="0.12" >8</text>
<line x1="55.50" y1="60.00" x2="61.00" y2="72.50" stroke="#ababab" stroke-width="0.45" />
<line x1="88.00" y1="60.50" x2="81.00" y2="76.50" stroke="#ababab" stroke-width="0.45" />
<line x1="123.50" y1="66.50" x2="117.50" y2="79.00" stroke="#ababab" stroke-width="0.45" />
<line x1="150.00" y1="66.50" x2="153.00" y2="72.00" stroke="#ababab" stroke-width="0.45" />
<line x1="180.00" y1="67.10" x2="184.60" y2="78.30" stroke="#ababab" stroke-width="0.45" />
<line x1="180.50" y1="67.10" x2="208.90" y2="78.90" stroke="#ababab" stroke-width="0.45" />
<line x1="58.00" y1="96.80" x2="67.50" y2="104.50" stroke="#ababab" stroke-width="0.45" />
<line x1="269.50" y1="101.80" x2="268.50" y2="95.50" stroke="#ababab" stroke-width="0.45" />
<line x1="284.50" y1="109.00" x2="289.00" y2="100.80" stroke="#ababab" stroke-width="0.45" />
<line x1="258.00" y1="56.20" x2="289.60" y2="79.20" stroke="#ababab" stroke-width="0.45" />
<line x1="257.50" y1="56.60" x2="372.00" y2="56.60" stroke="#888" stroke-width="0.5" />
<rect x="56.50" y="145.20" width="14.80" height="18.70" stroke="#c4c4c4" stroke-width="0.5" fill="none" rx="3"/>
<circle cx="63.90" cy="154.20" r="6.40" stroke="#c8c8c8" stroke-width="0.55" fill="none"/>
<line x1="63.90" y1="148.10" x2="63.90" y2="160.60" stroke="#bdbdbd" stroke-width="0.4" />
<line x1="57.50" y1="154.20" x2="70.30" y2="154.20" stroke="#bdbdbd" stroke-width="0.4" />
<path d="M 61 145.20 L 61 144.20 L 66.5 144.20 L 66.5 145.20" stroke="#777" stroke-width="0.6" fill="none" />
<rect x="71.30" y="149.80" width="12.50" height="5.20" stroke="#bdbdbd" stroke-width="0.5" fill="none" />
<rect x="71.30" y="156.90" width="12.50" height="5.60" stroke="#bdbdbd" stroke-width="0.5" fill="none" />
<line x1="74.00" y1="151.60" x2="82.00" y2="153.60" stroke="#888" stroke-width="0.5" />
<line x1="74.00" y1="158.80" x2="82.00" y2="160.80" stroke="#888" stroke-width="0.5" />
<line x1="71.30" y1="147.80" x2="86.00" y2="151.10" stroke="#bdbdbd" stroke-width="0.4" />
<line x1="71.30" y1="162.60" x2="88.00" y2="162.60" stroke="#bdbdbd" stroke-width="0.4" />
<rect x="47.20" y="163.90" width="34.10" height="5.80" stroke="#b4b4b4" stroke-width="0.5" fill="none" />
<line x1="64.40" y1="163.90" x2="64.40" y2="169.70" stroke="#bdbdbd" stroke-width="0.5" />
<line x1="48.00" y1="163.70" x2="76.00" y2="163.70" stroke="#666" stroke-width="0.8" />
<rect x="76.30" y="162.60" width="2.80" height="1.40" stroke="#555" stroke-width="0.4" fill="#666" />
<line x1="88.30" y1="151.20" x2="88.30" y2="168.90" stroke="#2e2e2e" stroke-width="1.2" />
<circle cx="88.30" cy="151.40" r="0.85" fill="#3c3c3c"/>
<circle cx="88.30" cy="168.70" r="0.85" fill="#3c3c3c"/>
<line x1="90.00" y1="152.60" x2="90.00" y2="167.50" stroke="#888" stroke-width="0.5" />
<rect x="90.60" y="154.60" width="10.40" height="11.40" stroke="#b4b4b4" stroke-width="0.45" fill="none" />
<circle cx="95.80" cy="160.30" r="4.60" stroke="#b0b0b0" stroke-width="0.5" fill="none"/>
<line x1="95.80" y1="157.40" x2="95.80" y2="163.20" stroke="#999" stroke-width="0.45" />
<line x1="92.90" y1="160.30" x2="98.70" y2="160.30" stroke="#999" stroke-width="0.45" />
<circle cx="91.30" cy="155.30" r="0.55" fill="#555"/>
<circle cx="100.40" cy="155.30" r="0.55" fill="#555"/>
<circle cx="91.30" cy="165.40" r="0.55" fill="#555"/>
<circle cx="100.40" cy="165.40" r="0.55" fill="#555"/>
<line x1="88.30" y1="152.60" x2="235.20" y2="152.60" stroke="#505050" stroke-width="0.95" />
<line x1="88.30" y1="153.90" x2="235.20" y2="153.90" stroke="#c4c4c4" stroke-width="0.4" />
<line x1="88.30" y1="167.50" x2="235.20" y2="167.50" stroke="#a4a4a4" stroke-width="0.5" />
<line x1="88.30" y1="166.20" x2="235.20" y2="166.20" stroke="#d8d8d8" stroke-width="0.35" />
<line x1="88.30" y1="156.60" x2="235.20" y2="156.60" stroke="#b4b4b4" stroke-width="0.5" stroke-dasharray="5,2"/>
<line x1="88.30" y1="163.40" x2="235.20" y2="163.40" stroke="#b8b8b8" stroke-width="0.5" stroke-dasharray="5,2"/>
<circle cx="99.10" cy="152.60" r="0.6" fill="#555"/>
<circle cx="109.90" cy="152.60" r="0.6" fill="#555"/>
<circle cx="120.70" cy="152.60" r="0.6" fill="#555"/>
<circle cx="131.50" cy="152.60" r="0.6" fill="#555"/>
<circle cx="142.30" cy="152.60" r="0.6" fill="#555"/>
<circle cx="153.10" cy="152.60" r="0.6" fill="#555"/>
<circle cx="163.90" cy="152.60" r="0.6" fill="#555"/>
<circle cx="174.70" cy="152.60" r="0.6" fill="#555"/>
<circle cx="185.50" cy="152.60" r="0.6" fill="#555"/>
<circle cx="196.30" cy="152.60" r="0.6" fill="#555"/>
<circle cx="207.10" cy="152.60" r="0.6" fill="#555"/>
<circle cx="217.90" cy="152.60" r="0.6" fill="#555"/>
<circle cx="228.70" cy="152.60" r="0.6" fill="#555"/>
<line x1="240.60" y1="152.60" x2="258.50" y2="152.60" stroke="#505050" stroke-width="0.95" />
<line x1="240.60" y1="153.90" x2="258.50" y2="153.90" stroke="#c4c4c4" stroke-width="0.4" />
<line x1="240.60" y1="167.50" x2="258.50" y2="167.50" stroke="#a4a4a4" stroke-width="0.5" />
<line x1="240.60" y1="166.20" x2="258.50" y2="166.20" stroke="#d8d8d8" stroke-width="0.35" />
<line x1="240.60" y1="156.60" x2="258.50" y2="156.60" stroke="#b4b4b4" stroke-width="0.5" stroke-dasharray="5,2"/>
<line x1="240.60" y1="163.40" x2="258.50" y2="163.40" stroke="#b8b8b8" stroke-width="0.5" stroke-dasharray="5,2"/>
<circle cx="251.40" cy="152.60" r="0.6" fill="#555"/>
<line x1="133.30" y1="151.40" x2="133.30" y2="168.70" stroke="#4a4a4a" stroke-width="0.65" />
<line x1="131.50" y1="152.60" x2="131.50" y2="167.50" stroke="#aaa" stroke-width="0.45" />
<circle cx="133.30" cy="151.60" r="0.85" fill="#3c3c3c"/>
<circle cx="133.30" cy="168.50" r="0.85" fill="#3c3c3c"/>
<circle cx="133.30" cy="160.05" r="0.45" fill="#3c3c3c"/>
<line x1="220.50" y1="151.40" x2="220.50" y2="168.70" stroke="#4a4a4a" stroke-width="0.65" />
<line x1="218.70" y1="152.60" x2="218.70" y2="167.50" stroke="#aaa" stroke-width="0.45" />
<circle cx="220.50" cy="151.60" r="0.85" fill="#3c3c3c"/>
<circle cx="220.50" cy="168.50" r="0.85" fill="#3c3c3c"/>
<circle cx="220.50" cy="160.05" r="0.45" fill="#3c3c3c"/>
<rect x="147.60" y="145.60" width="16.90" height="7.00" stroke="#9a9a9a" stroke-width="0.5" fill="none" />
<line x1="147.20" y1="145.60" x2="165.00" y2="145.60" stroke="#555" stroke-width="0.9" />
<line x1="147.60" y1="146.80" x2="164.50" y2="146.80" stroke="#aaa" stroke-width="0.4" />
<line x1="258.50" y1="152.60" x2="308.00" y2="152.60" stroke="#505050" stroke-width="0.95" />
<line x1="258.50" y1="153.90" x2="308.00" y2="153.90" stroke="#c4c4c4" stroke-width="0.4" />
<line x1="258.50" y1="167.50" x2="308.00" y2="167.50" stroke="#a4a4a4" stroke-width="0.5" />
<line x1="258.50" y1="166.20" x2="308.00" y2="166.20" stroke="#d8d8d8" stroke-width="0.35" />
<line x1="258.50" y1="156.60" x2="308.00" y2="156.60" stroke="#b4b4b4" stroke-width="0.5" stroke-dasharray="5,2"/>
<line x1="258.50" y1="163.40" x2="308.00" y2="163.40" stroke="#b8b8b8" stroke-width="0.5" stroke-dasharray="5,2"/>
<circle cx="269.30" cy="152.60" r="0.6" fill="#555"/>
<circle cx="280.10" cy="152.60" r="0.6" fill="#555"/>
<circle cx="290.90" cy="152.60" r="0.6" fill="#555"/>
<circle cx="301.70" cy="152.60" r="0.6" fill="#555"/>
<line x1="258.00" y1="151.40" x2="258.00" y2="168.70" stroke="#4a4a4a" stroke-width="0.65" />
<line x1="256.20" y1="152.60" x2="256.20" y2="167.50" stroke="#aaa" stroke-width="0.45" />
<circle cx="258.00" cy="151.60" r="0.85" fill="#3c3c3c"/>
<circle cx="258.00" cy="168.50" r="0.85" fill="#3c3c3c"/>
<circle cx="258.00" cy="160.05" r="0.45" fill="#3c3c3c"/>
<line x1="308.00" y1="151.60" x2="308.00" y2="168.50" stroke="#3a3a3a" stroke-width="0.8" />
<circle cx="308.00" cy="151.80" r="0.85" fill="#3c3c3c"/>
<circle cx="308.00" cy="168.30" r="0.85" fill="#3c3c3c"/>
<line x1="290.60" y1="152.60" x2="290.60" y2="165.50" stroke="#9a9a9a" stroke-width="0.5" stroke-dasharray="2,1"/>
<line x1="300.40" y1="154.60" x2="300.40" y2="165.50" stroke="#9a9a9a" stroke-width="0.5" stroke-dasharray="2,1"/>
<line x1="289.30" y1="160.60" x2="291.90" y2="160.60" stroke="#6a6a6a" stroke-width="0.5" />
<line x1="290.60" y1="159.30" x2="290.60" y2="161.90" stroke="#6a6a6a" stroke-width="0.5" />
<line x1="299.10" y1="160.60" x2="301.70" y2="160.60" stroke="#6a6a6a" stroke-width="0.5" />
<line x1="300.40" y1="159.30" x2="300.40" y2="161.90" stroke="#6a6a6a" stroke-width="0.5" />
<line x1="292.70" y1="160.60" x2="295.30" y2="160.60" stroke="#6a6a6a" stroke-width="0.5" />
<line x1="294.00" y1="159.30" x2="294.00" y2="161.90" stroke="#6a6a6a" stroke-width="0.5" />
<line x1="302.00" y1="160.60" x2="312.00" y2="160.60" stroke="#9a9a9a" stroke-width="0.5" />
<circle cx="290.60" cy="155.10" r="0.6" fill="#3c3c3c"/>
<circle cx="300.40" cy="155.10" r="0.6" fill="#3c3c3c"/>
<circle cx="290.60" cy="166.10" r="0.6" fill="#3c3c3c"/>
<circle cx="300.40" cy="166.10" r="0.6" fill="#3c3c3c"/>
<path d="M 304.5 152.60 L 308 152.10" stroke="#3c3c3c" stroke-width="0.8" fill="none" />
<line x1="90.00" y1="167.50" x2="90.00" y2="173.10" stroke="#9a9a9a" stroke-width="0.5" />
<line x1="104.60" y1="167.50" x2="104.60" y2="173.10" stroke="#9a9a9a" stroke-width="0.5" />
<line x1="89.20" y1="173.40" x2="105.40" y2="173.40" stroke="#444" stroke-width="1.0" />
<text x="54.40" y="131.50" font-size="5.6" fill="#333" font-style="normal" font-weight="normal" text-anchor="middle" stroke="#333" stroke-width="0.12" >4</text>
<text x="88.60" y="131.80" font-size="5.6" fill="#333" font-style="normal" font-weight="normal" text-anchor="middle" stroke="#333" stroke-width="0.12" >6</text>
<text x="124.60" y="138.40" font-size="5.6" fill="#333" font-style="normal" font-weight="normal" text-anchor="middle" stroke="#333" stroke-width="0.12" >2</text>
<text x="149.60" y="138.40" font-size="5.6" fill="#333" font-style="normal" font-weight="normal" text-anchor="middle" stroke="#333" stroke-width="0.12" >7</text>
<text x="178.00" y="138.40" font-size="5.6" fill="#333" font-style="normal" font-weight="normal" text-anchor="middle" stroke="#333" stroke-width="0.12" >3</text>
<text x="70.00" y="183.00" font-size="5.6" fill="#333" font-style="normal" font-weight="normal" text-anchor="middle" stroke="#333" stroke-width="0.12" >5</text>
<text x="123.40" y="177.30" font-size="5.6" fill="#333" font-style="normal" font-weight="normal" text-anchor="middle" stroke="#333" stroke-width="0.12" >8</text>
<line x1="55.50" y1="133.50" x2="61.00" y2="145.50" stroke="#ababab" stroke-width="0.45" />
<line x1="88.00" y1="134.00" x2="81.00" y2="149.50" stroke="#ababab" stroke-width="0.45" />
<line x1="123.50" y1="140.00" x2="117.50" y2="152.60" stroke="#ababab" stroke-width="0.45" />
<line x1="150.00" y1="140.00" x2="153.00" y2="145.40" stroke="#ababab" stroke-width="0.45" />
<line x1="180.00" y1="140.50" x2="184.60" y2="151.60" stroke="#ababab" stroke-width="0.45" />
<line x1="180.50" y1="140.50" x2="208.90" y2="152.20" stroke="#ababab" stroke-width="0.45" />
<line x1="58.00" y1="170.00" x2="67.50" y2="178.00" stroke="#ababab" stroke-width="0.45" />
<line x1="121.00" y1="175.50" x2="105.00" y2="173.40" stroke="#ababab" stroke-width="0.45" />
<rect x="56.50" y="279.30" width="14.80" height="18.70" stroke="#c4c4c4" stroke-width="0.5" fill="none" rx="3"/>
<circle cx="63.90" cy="288.30" r="6.40" stroke="#c8c8c8" stroke-width="0.55" fill="none"/>
<line x1="63.90" y1="282.20" x2="63.90" y2="294.70" stroke="#bdbdbd" stroke-width="0.4" />
<line x1="57.50" y1="288.30" x2="70.30" y2="288.30" stroke="#bdbdbd" stroke-width="0.4" />
<path d="M 61 279.30 L 61 278.30 L 66.5 278.30 L 66.5 279.30" stroke="#777" stroke-width="0.6" fill="none" />
<rect x="71.30" y="283.90" width="12.50" height="5.20" stroke="#bdbdbd" stroke-width="0.5" fill="none" />
<rect x="71.30" y="291.00" width="12.50" height="5.60" stroke="#bdbdbd" stroke-width="0.5" fill="none" />
<line x1="74.00" y1="285.70" x2="82.00" y2="287.70" stroke="#888" stroke-width="0.5" />
<line x1="74.00" y1="292.90" x2="82.00" y2="294.90" stroke="#888" stroke-width="0.5" />
<line x1="71.30" y1="281.90" x2="86.00" y2="285.20" stroke="#bdbdbd" stroke-width="0.4" />
<line x1="71.30" y1="296.70" x2="88.00" y2="296.70" stroke="#bdbdbd" stroke-width="0.4" />
<rect x="47.20" y="298.00" width="34.10" height="5.80" stroke="#b4b4b4" stroke-width="0.5" fill="none" />
<line x1="64.40" y1="298.00" x2="64.40" y2="303.80" stroke="#bdbdbd" stroke-width="0.5" />
<line x1="48.00" y1="297.80" x2="76.00" y2="297.80" stroke="#666" stroke-width="0.8" />
<rect x="76.30" y="296.70" width="2.80" height="1.40" stroke="#555" stroke-width="0.4" fill="#666" />
<line x1="88.30" y1="285.30" x2="88.30" y2="303.00" stroke="#2e2e2e" stroke-width="1.2" />
<circle cx="88.30" cy="285.50" r="0.85" fill="#3c3c3c"/>
<circle cx="88.30" cy="302.80" r="0.85" fill="#3c3c3c"/>
<line x1="90.00" y1="286.70" x2="90.00" y2="301.60" stroke="#888" stroke-width="0.5" />
<rect x="90.60" y="288.70" width="10.40" height="11.40" stroke="#b4b4b4" stroke-width="0.45" fill="none" />
<circle cx="95.80" cy="294.40" r="4.60" stroke="#b0b0b0" stroke-width="0.5" fill="none"/>
<line x1="95.80" y1="291.50" x2="95.80" y2="297.30" stroke="#999" stroke-width="0.45" />
<line x1="92.90" y1="294.40" x2="98.70" y2="294.40" stroke="#999" stroke-width="0.45" />
<circle cx="91.30" cy="289.40" r="0.55" fill="#555"/>
<circle cx="100.40" cy="289.40" r="0.55" fill="#555"/>
<circle cx="91.30" cy="299.50" r="0.55" fill="#555"/>
<circle cx="100.40" cy="299.50" r="0.55" fill="#555"/>
<line x1="88.30" y1="286.70" x2="235.20" y2="286.70" stroke="#505050" stroke-width="0.95" />
<line x1="88.30" y1="288.00" x2="235.20" y2="288.00" stroke="#c4c4c4" stroke-width="0.4" />
<line x1="88.30" y1="301.60" x2="235.20" y2="301.60" stroke="#a4a4a4" stroke-width="0.5" />
<line x1="88.30" y1="300.30" x2="235.20" y2="300.30" stroke="#d8d8d8" stroke-width="0.35" />
<line x1="88.30" y1="290.70" x2="235.20" y2="290.70" stroke="#b4b4b4" stroke-width="0.5" stroke-dasharray="5,2"/>
<line x1="88.30" y1="297.50" x2="235.20" y2="297.50" stroke="#b8b8b8" stroke-width="0.5" stroke-dasharray="5,2"/>
<circle cx="99.10" cy="286.70" r="0.6" fill="#555"/>
<circle cx="109.90" cy="286.70" r="0.6" fill="#555"/>
<circle cx="120.70" cy="286.70" r="0.6" fill="#555"/>
<circle cx="131.50" cy="286.70" r="0.6" fill="#555"/>
<circle cx="142.30" cy="286.70" r="0.6" fill="#555"/>
<circle cx="153.10" cy="286.70" r="0.6" fill="#555"/>
<circle cx="163.90" cy="286.70" r="0.6" fill="#555"/>
<circle cx="174.70" cy="286.70" r="0.6" fill="#555"/>
<circle cx="185.50" cy="286.70" r="0.6" fill="#555"/>
<circle cx="196.30" cy="286.70" r="0.6" fill="#555"/>
<circle cx="207.10" cy="286.70" r="0.6" fill="#555"/>
<circle cx="217.90" cy="286.70" r="0.6" fill="#555"/>
<circle cx="228.70" cy="286.70" r="0.6" fill="#555"/>
<line x1="240.60" y1="286.70" x2="258.50" y2="286.70" stroke="#505050" stroke-width="0.95" />
<line x1="240.60" y1="288.00" x2="258.50" y2="288.00" stroke="#c4c4c4" stroke-width="0.4" />
<line x1="240.60" y1="301.60" x2="258.50" y2="301.60" stroke="#a4a4a4" stroke-width="0.5" />
<line x1="240.60" y1="300.30" x2="258.50" y2="300.30" stroke="#d8d8d8" stroke-width="0.35" />
<line x1="240.60" y1="290.70" x2="258.50" y2="290.70" stroke="#b4b4b4" stroke-width="0.5" stroke-dasharray="5,2"/>
<line x1="240.60" y1="297.50" x2="258.50" y2="297.50" stroke="#b8b8b8" stroke-width="0.5" stroke-dasharray="5,2"/>
<circle cx="251.40" cy="286.70" r="0.6" fill="#555"/>
<line x1="133.30" y1="285.50" x2="133.30" y2="302.80" stroke="#4a4a4a" stroke-width="0.65" />
<line x1="131.50" y1="286.70" x2="131.50" y2="301.60" stroke="#aaa" stroke-width="0.45" />
<circle cx="133.30" cy="285.70" r="0.85" fill="#3c3c3c"/>
<circle cx="133.30" cy="302.60" r="0.85" fill="#3c3c3c"/>
<circle cx="133.30" cy="294.15" r="0.45" fill="#3c3c3c"/>
<line x1="220.50" y1="285.50" x2="220.50" y2="302.80" stroke="#4a4a4a" stroke-width="0.65" />
<line x1="218.70" y1="286.70" x2="218.70" y2="301.60" stroke="#aaa" stroke-width="0.45" />
<circle cx="220.50" cy="285.70" r="0.85" fill="#3c3c3c"/>
<circle cx="220.50" cy="302.60" r="0.85" fill="#3c3c3c"/>
<circle cx="220.50" cy="294.15" r="0.45" fill="#3c3c3c"/>
<rect x="147.60" y="279.70" width="16.90" height="7.00" stroke="#9a9a9a" stroke-width="0.5" fill="none" />
<line x1="147.20" y1="279.70" x2="165.00" y2="279.70" stroke="#555" stroke-width="0.9" />
<line x1="147.60" y1="280.90" x2="164.50" y2="280.90" stroke="#aaa" stroke-width="0.4" />
<line x1="258.00" y1="285.50" x2="258.00" y2="302.80" stroke="#4a4a4a" stroke-width="0.65" />
<line x1="256.20" y1="286.70" x2="256.20" y2="301.60" stroke="#aaa" stroke-width="0.45" />
<circle cx="258.00" cy="285.70" r="0.85" fill="#3c3c3c"/>
<circle cx="258.00" cy="302.60" r="0.85" fill="#3c3c3c"/>
<circle cx="258.00" cy="294.15" r="0.45" fill="#3c3c3c"/>
<path d="M 258.5 286.70 L 263 286.70 L 274 280.60" stroke="#4a4a4a" stroke-width="1.0" fill="none" />
<path d="M 258.5 301.60 L 270 301.60 L 283.2 293.40" stroke="#6a6a6a" stroke-width="0.6" fill="none" />
<line x1="266.30" y1="291.70" x2="268.90" y2="291.70" stroke="#6a6a6a" stroke-width="0.5" />
<line x1="267.60" y1="290.40" x2="267.60" y2="293.00" stroke="#6a6a6a" stroke-width="0.5" />
<line x1="268.90" y1="297.20" x2="271.50" y2="297.20" stroke="#6a6a6a" stroke-width="0.5" />
<line x1="270.20" y1="295.90" x2="270.20" y2="298.50" stroke="#6a6a6a" stroke-width="0.5" />
<line x1="258.50" y1="290.70" x2="264.00" y2="290.70" stroke="#bdbdbd" stroke-width="0.5" />
<line x1="258.50" y1="298.50" x2="268.00" y2="298.50" stroke="#bdbdbd" stroke-width="0.5" />
<g transform="translate(274.00,280.60) rotate(-35.75)">
<line x1="0.00" y1="0.00" x2="108.40" y2="0.00" stroke="#5c5c5c" stroke-width="0.75" />
<line x1="0.00" y1="1.30" x2="108.40" y2="1.30" stroke="#c4c4c4" stroke-width="0.4" />
<line x1="0.00" y1="14.90" x2="108.40" y2="14.90" stroke="#a4a4a4" stroke-width="0.5" />
<line x1="0.00" y1="13.60" x2="108.40" y2="13.60" stroke="#d8d8d8" stroke-width="0.35" />
<line x1="0.00" y1="4.00" x2="108.40" y2="4.00" stroke="#b4b4b4" stroke-width="0.5" stroke-dasharray="5,2"/>
<line x1="0.00" y1="10.80" x2="108.40" y2="10.80" stroke="#b8b8b8" stroke-width="0.5" stroke-dasharray="5,2"/>
<circle cx="10.80" cy="0.00" r="0.6" fill="#555"/>
<circle cx="21.60" cy="0.00" r="0.6" fill="#555"/>
<circle cx="32.40" cy="0.00" r="0.6" fill="#555"/>
<circle cx="43.20" cy="0.00" r="0.6" fill="#555"/>
<circle cx="54.00" cy="0.00" r="0.6" fill="#555"/>
<circle cx="64.80" cy="0.00" r="0.6" fill="#555"/>
<circle cx="75.60" cy="0.00" r="0.6" fill="#555"/>
<circle cx="86.40" cy="0.00" r="0.6" fill="#555"/>
<circle cx="97.20" cy="0.00" r="0.6" fill="#555"/>
</g>
<g transform="translate(274.00,280.60) rotate(-35.75)">
<line x1="117.00" y1="0.00" x2="177.60" y2="0.00" stroke="#5c5c5c" stroke-width="0.75" />
<line x1="117.00" y1="1.30" x2="177.60" y2="1.30" stroke="#c4c4c4" stroke-width="0.4" />
<line x1="117.00" y1="14.90" x2="177.60" y2="14.90" stroke="#a4a4a4" stroke-width="0.5" />
<line x1="117.00" y1="13.60" x2="177.60" y2="13.60" stroke="#d8d8d8" stroke-width="0.35" />
<line x1="117.00" y1="4.00" x2="177.60" y2="4.00" stroke="#b4b4b4" stroke-width="0.5" stroke-dasharray="5,2"/>
<line x1="117.00" y1="10.80" x2="177.60" y2="10.80" stroke="#b8b8b8" stroke-width="0.5" stroke-dasharray="5,2"/>
<circle cx="127.80" cy="0.00" r="0.6" fill="#555"/>
<circle cx="138.60" cy="0.00" r="0.6" fill="#555"/>
<circle cx="149.40" cy="0.00" r="0.6" fill="#555"/>
<circle cx="160.20" cy="0.00" r="0.6" fill="#555"/>
<circle cx="171.00" cy="0.00" r="0.6" fill="#555"/>
</g>
<g transform="translate(274.00,280.60) rotate(-35.75)">
<line x1="0.00" y1="-1.20" x2="0.00" y2="16.10" stroke="#4a4a4a" stroke-width="0.65" />
<line x1="-1.80" y1="0.00" x2="-1.80" y2="14.90" stroke="#aaa" stroke-width="0.45" />
<circle cx="0.00" cy="-1.00" r="0.85" fill="#3c3c3c"/>
<circle cx="0.00" cy="15.90" r="0.85" fill="#3c3c3c"/>
<circle cx="0.00" cy="7.45" r="0.45" fill="#3c3c3c"/>
</g>
<g transform="translate(274.00,280.60) rotate(-35.75)">
<line x1="87.50" y1="-1.20" x2="87.50" y2="16.10" stroke="#4a4a4a" stroke-width="0.65" />
<line x1="85.70" y1="0.00" x2="85.70" y2="14.90" stroke="#aaa" stroke-width="0.45" />
<circle cx="87.50" cy="-1.00" r="0.85" fill="#3c3c3c"/>
<circle cx="87.50" cy="15.90" r="0.85" fill="#3c3c3c"/>
<circle cx="87.50" cy="7.45" r="0.45" fill="#3c3c3c"/>
</g>
<g transform="translate(274.00,280.60) rotate(-35.75)">
<line x1="127.70" y1="-1.20" x2="127.70" y2="16.10" stroke="#4a4a4a" stroke-width="0.65" />
<line x1="125.90" y1="0.00" x2="125.90" y2="14.90" stroke="#aaa" stroke-width="0.45" />
<circle cx="127.70" cy="-1.00" r="0.85" fill="#3c3c3c"/>
<circle cx="127.70" cy="15.90" r="0.85" fill="#3c3c3c"/>
<circle cx="127.70" cy="7.45" r="0.45" fill="#3c3c3c"/>
</g>
<line x1="418.12" y1="176.83" x2="426.83" y2="188.92" stroke="#555" stroke-width="0.7" />
<circle cx="418.12" cy="176.83" r="0.8" fill="#3c3c3c"/>
<circle cx="426.83" cy="188.92" r="0.8" fill="#3c3c3c"/>
<g transform="translate(274.00,280.60) rotate(-35.75)">
<line x1="158.80" y1="5.50" x2="161.20" y2="5.50" stroke="#888" stroke-width="0.45" />
<line x1="160.00" y1="4.30" x2="160.00" y2="6.70" stroke="#888" stroke-width="0.45" />
<line x1="166.80" y1="5.50" x2="169.20" y2="5.50" stroke="#888" stroke-width="0.45" />
<line x1="168.00" y1="4.30" x2="168.00" y2="6.70" stroke="#888" stroke-width="0.45" />
<line x1="158.80" y1="10.50" x2="161.20" y2="10.50" stroke="#888" stroke-width="0.45" />
<line x1="160.00" y1="9.30" x2="160.00" y2="11.70" stroke="#888" stroke-width="0.45" />
<line x1="166.80" y1="10.50" x2="169.20" y2="10.50" stroke="#888" stroke-width="0.45" />
<line x1="168.00" y1="9.30" x2="168.00" y2="11.70" stroke="#888" stroke-width="0.45" />
<circle cx="158.00" cy="2.20" r="0.55" fill="#666"/>
<circle cx="158.00" cy="13.20" r="0.55" fill="#666"/>
<circle cx="171.00" cy="2.20" r="0.55" fill="#666"/>
<circle cx="171.00" cy="13.20" r="0.55" fill="#666"/>
<line x1="157.50" y1="1.30" x2="157.50" y2="13.60" stroke="#aaa" stroke-width="0.4" stroke-dasharray="1.5,1"/>
</g>
<line x1="426.83" y1="188.92" x2="426.83" y2="207.40" stroke="#a0a0a0" stroke-width="0.5" />
<line x1="411.00" y1="200.50" x2="411.00" y2="207.40" stroke="#a0a0a0" stroke-width="0.5" />
<line x1="410.00" y1="207.60" x2="426.50" y2="207.60" stroke="#a8a8a8" stroke-width="1.6" />
<circle cx="410.60" cy="207.60" r="0.6" fill="#777"/>
<circle cx="426.00" cy="207.60" r="0.6" fill="#777"/>
<text x="54.40" y="265.00" font-size="5.6" fill="#333" font-style="normal" font-weight="normal" text-anchor="middle" stroke="#333" stroke-width="0.12" >4</text>
<text x="88.60" y="265.20" font-size="5.6" fill="#333" font-style="normal" font-weight="normal" text-anchor="middle" stroke="#333" stroke-width="0.12" >6</text>
<text x="124.60" y="272.50" font-size="5.6" fill="#333" font-style="normal" font-weight="normal" text-anchor="middle" stroke="#333" stroke-width="0.12" >2</text>
<text x="149.60" y="272.50" font-size="5.6" fill="#333" font-style="normal" font-weight="normal" text-anchor="middle" stroke="#333" stroke-width="0.12" >7</text>
<text x="178.00" y="272.50" font-size="5.6" fill="#333" font-style="normal" font-weight="normal" text-anchor="middle" stroke="#333" stroke-width="0.12" >3</text>
<text x="70.00" y="332.40" font-size="5.6" fill="#333" font-style="normal" font-weight="normal" text-anchor="middle" stroke="#333" stroke-width="0.12" >5</text>
<text x="244.20" y="266.00" font-size="5.6" fill="#333" font-style="normal" font-weight="normal" text-anchor="middle" stroke="#333" stroke-width="0.12" >9</text>
<text x="300.40" y="234.40" font-size="5.6" fill="#333" font-style="normal" font-weight="normal" text-anchor="middle" stroke="#333" stroke-width="0.12" >3</text>
<text x="409.30" y="231.00" font-size="5.6" fill="#333" font-style="normal" font-weight="normal" text-anchor="middle" stroke="#333" stroke-width="0.12" >8</text>
<line x1="55.50" y1="267.00" x2="61.00" y2="278.50" stroke="#ababab" stroke-width="0.45" />
<line x1="88.00" y1="267.50" x2="81.00" y2="283.00" stroke="#ababab" stroke-width="0.45" />
<line x1="123.50" y1="274.00" x2="117.50" y2="286.70" stroke="#ababab" stroke-width="0.45" />
<line x1="150.00" y1="274.00" x2="153.00" y2="279.50" stroke="#ababab" stroke-width="0.45" />
<line x1="180.00" y1="274.40" x2="184.60" y2="285.60" stroke="#ababab" stroke-width="0.45" />
<line x1="180.50" y1="274.40" x2="208.90" y2="286.20" stroke="#ababab" stroke-width="0.45" />
<line x1="58.20" y1="303.90" x2="67.10" y2="316.50" stroke="#ababab" stroke-width="0.45" />
<line x1="246.00" y1="267.00" x2="262.00" y2="282.00" stroke="#ababab" stroke-width="0.45" />
<line x1="302.00" y1="221.00" x2="346.00" y2="227.00" stroke="#ababab" stroke-width="0.45" />
<line x1="304.00" y1="222.50" x2="313.00" y2="250.00" stroke="#ababab" stroke-width="0.45" />
<line x1="410.50" y1="226.50" x2="415.00" y2="210.00" stroke="#ababab" stroke-width="0.45" />
<rect x="56.50" y="394.20" width="14.80" height="18.70" stroke="#c4c4c4" stroke-width="0.5" fill="none" rx="3"/>
<circle cx="63.90" cy="403.20" r="6.40" stroke="#c8c8c8" stroke-width="0.55" fill="none"/>
<line x1="63.90" y1="397.10" x2="63.90" y2="409.60" stroke="#bdbdbd" stroke-width="0.4" />
<line x1="57.50" y1="403.20" x2="70.30" y2="403.20" stroke="#bdbdbd" stroke-width="0.4" />
<path d="M 61 394.20 L 61 393.20 L 66.5 393.20 L 66.5 394.20" stroke="#777" stroke-width="0.6" fill="none" />
<rect x="71.30" y="398.80" width="12.50" height="5.20" stroke="#bdbdbd" stroke-width="0.5" fill="none" />
<rect x="71.30" y="405.90" width="12.50" height="5.60" stroke="#bdbdbd" stroke-width="0.5" fill="none" />
<line x1="74.00" y1="400.60" x2="82.00" y2="402.60" stroke="#888" stroke-width="0.5" />
<line x1="74.00" y1="407.80" x2="82.00" y2="409.80" stroke="#888" stroke-width="0.5" />
<line x1="71.30" y1="396.80" x2="86.00" y2="400.10" stroke="#bdbdbd" stroke-width="0.4" />
<line x1="71.30" y1="411.60" x2="88.00" y2="411.60" stroke="#bdbdbd" stroke-width="0.4" />
<rect x="47.20" y="412.90" width="34.10" height="5.80" stroke="#b4b4b4" stroke-width="0.5" fill="none" />
<line x1="64.40" y1="412.90" x2="64.40" y2="418.70" stroke="#bdbdbd" stroke-width="0.5" />
<line x1="48.00" y1="412.70" x2="76.00" y2="412.70" stroke="#666" stroke-width="0.8" />
<rect x="76.30" y="411.60" width="2.80" height="1.40" stroke="#555" stroke-width="0.4" fill="#666" />
<line x1="88.30" y1="400.20" x2="88.30" y2="417.90" stroke="#2e2e2e" stroke-width="1.2" />
<circle cx="88.30" cy="400.40" r="0.85" fill="#3c3c3c"/>
<circle cx="88.30" cy="417.70" r="0.85" fill="#3c3c3c"/>
<line x1="90.00" y1="401.60" x2="90.00" y2="416.50" stroke="#888" stroke-width="0.5" />
<rect x="90.60" y="403.60" width="10.40" height="11.40" stroke="#b4b4b4" stroke-width="0.45" fill="none" />
<circle cx="95.80" cy="409.30" r="4.60" stroke="#b0b0b0" stroke-width="0.5" fill="none"/>
<line x1="95.80" y1="406.40" x2="95.80" y2="412.20" stroke="#999" stroke-width="0.45" />
<line x1="92.90" y1="409.30" x2="98.70" y2="409.30" stroke="#999" stroke-width="0.45" />
<circle cx="91.30" cy="404.30" r="0.55" fill="#555"/>
<circle cx="100.40" cy="404.30" r="0.55" fill="#555"/>
<circle cx="91.30" cy="414.40" r="0.55" fill="#555"/>
<circle cx="100.40" cy="414.40" r="0.55" fill="#555"/>
<line x1="88.30" y1="401.60" x2="235.20" y2="401.60" stroke="#505050" stroke-width="0.95" />
<line x1="88.30" y1="402.90" x2="235.20" y2="402.90" stroke="#c4c4c4" stroke-width="0.4" />
<line x1="88.30" y1="416.50" x2="235.20" y2="416.50" stroke="#a4a4a4" stroke-width="0.5" />
<line x1="88.30" y1="415.20" x2="235.20" y2="415.20" stroke="#d8d8d8" stroke-width="0.35" />
<line x1="88.30" y1="405.60" x2="235.20" y2="405.60" stroke="#b4b4b4" stroke-width="0.5" stroke-dasharray="5,2"/>
<line x1="88.30" y1="412.40" x2="235.20" y2="412.40" stroke="#b8b8b8" stroke-width="0.5" stroke-dasharray="5,2"/>
<circle cx="99.10" cy="401.60" r="0.6" fill="#555"/>
<circle cx="109.90" cy="401.60" r="0.6" fill="#555"/>
<circle cx="120.70" cy="401.60" r="0.6" fill="#555"/>
<circle cx="131.50" cy="401.60" r="0.6" fill="#555"/>
<circle cx="142.30" cy="401.60" r="0.6" fill="#555"/>
<circle cx="153.10" cy="401.60" r="0.6" fill="#555"/>
<circle cx="163.90" cy="401.60" r="0.6" fill="#555"/>
<circle cx="174.70" cy="401.60" r="0.6" fill="#555"/>
<circle cx="185.50" cy="401.60" r="0.6" fill="#555"/>
<circle cx="196.30" cy="401.60" r="0.6" fill="#555"/>
<circle cx="207.10" cy="401.60" r="0.6" fill="#555"/>
<circle cx="217.90" cy="401.60" r="0.6" fill="#555"/>
<circle cx="228.70" cy="401.60" r="0.6" fill="#555"/>
<line x1="240.60" y1="401.60" x2="258.50" y2="401.60" stroke="#505050" stroke-width="0.95" />
<line x1="240.60" y1="402.90" x2="258.50" y2="402.90" stroke="#c4c4c4" stroke-width="0.4" />
<line x1="240.60" y1="416.50" x2="258.50" y2="416.50" stroke="#a4a4a4" stroke-width="0.5" />
<line x1="240.60" y1="415.20" x2="258.50" y2="415.20" stroke="#d8d8d8" stroke-width="0.35" />
<line x1="240.60" y1="405.60" x2="258.50" y2="405.60" stroke="#b4b4b4" stroke-width="0.5" stroke-dasharray="5,2"/>
<line x1="240.60" y1="412.40" x2="258.50" y2="412.40" stroke="#b8b8b8" stroke-width="0.5" stroke-dasharray="5,2"/>
<circle cx="251.40" cy="401.60" r="0.6" fill="#555"/>
<line x1="133.30" y1="400.40" x2="133.30" y2="417.70" stroke="#4a4a4a" stroke-width="0.65" />
<line x1="131.50" y1="401.60" x2="131.50" y2="416.50" stroke="#aaa" stroke-width="0.45" />
<circle cx="133.30" cy="400.60" r="0.85" fill="#3c3c3c"/>
<circle cx="133.30" cy="417.50" r="0.85" fill="#3c3c3c"/>
<circle cx="133.30" cy="409.05" r="0.45" fill="#3c3c3c"/>
<line x1="220.50" y1="400.40" x2="220.50" y2="417.70" stroke="#4a4a4a" stroke-width="0.65" />
<line x1="218.70" y1="401.60" x2="218.70" y2="416.50" stroke="#aaa" stroke-width="0.45" />
<circle cx="220.50" cy="400.60" r="0.85" fill="#3c3c3c"/>
<circle cx="220.50" cy="417.50" r="0.85" fill="#3c3c3c"/>
<circle cx="220.50" cy="409.05" r="0.45" fill="#3c3c3c"/>
<rect x="147.60" y="394.60" width="16.90" height="7.00" stroke="#9a9a9a" stroke-width="0.5" fill="none" />
<line x1="147.20" y1="394.60" x2="165.00" y2="394.60" stroke="#555" stroke-width="0.9" />
<line x1="147.60" y1="395.80" x2="164.50" y2="395.80" stroke="#aaa" stroke-width="0.4" />
<line x1="258.00" y1="400.40" x2="258.00" y2="417.70" stroke="#4a4a4a" stroke-width="0.65" />
<line x1="256.20" y1="401.60" x2="256.20" y2="416.50" stroke="#aaa" stroke-width="0.45" />
<circle cx="258.00" cy="400.60" r="0.85" fill="#3c3c3c"/>
<circle cx="258.00" cy="417.50" r="0.85" fill="#3c3c3c"/>
<circle cx="258.00" cy="409.05" r="0.45" fill="#3c3c3c"/>
<path d="M 258.5 401.60 L 263 401.60 L 274 395.50" stroke="#4a4a4a" stroke-width="1.0" fill="none" />
<path d="M 258.5 416.50 L 270 416.50 L 283.2 408.30" stroke="#6a6a6a" stroke-width="0.6" fill="none" />
<line x1="266.30" y1="406.60" x2="268.90" y2="406.60" stroke="#6a6a6a" stroke-width="0.5" />
<line x1="267.60" y1="405.30" x2="267.60" y2="407.90" stroke="#6a6a6a" stroke-width="0.5" />
<line x1="268.90" y1="412.10" x2="271.50" y2="412.10" stroke="#6a6a6a" stroke-width="0.5" />
<line x1="270.20" y1="410.80" x2="270.20" y2="413.40" stroke="#6a6a6a" stroke-width="0.5" />
<line x1="258.50" y1="405.60" x2="264.00" y2="405.60" stroke="#bdbdbd" stroke-width="0.5" />
<line x1="258.50" y1="413.40" x2="268.00" y2="413.40" stroke="#bdbdbd" stroke-width="0.5" />
<g transform="translate(274.00,395.50) rotate(-35.75)">
<line x1="0.00" y1="0.00" x2="127.70" y2="0.00" stroke="#5c5c5c" stroke-width="0.75" />
<line x1="0.00" y1="1.30" x2="127.70" y2="1.30" stroke="#c4c4c4" stroke-width="0.4" />
<line x1="0.00" y1="14.90" x2="127.70" y2="14.90" stroke="#a4a4a4" stroke-width="0.5" />
<line x1="0.00" y1="13.60" x2="127.70" y2="13.60" stroke="#d8d8d8" stroke-width="0.35" />
<line x1="0.00" y1="4.00" x2="127.70" y2="4.00" stroke="#b4b4b4" stroke-width="0.5" stroke-dasharray="5,2"/>
<line x1="0.00" y1="10.80" x2="127.70" y2="10.80" stroke="#b8b8b8" stroke-width="0.5" stroke-dasharray="5,2"/>
<circle cx="10.80" cy="0.00" r="0.6" fill="#555"/>
<circle cx="21.60" cy="0.00" r="0.6" fill="#555"/>
<circle cx="32.40" cy="0.00" r="0.6" fill="#555"/>
<circle cx="43.20" cy="0.00" r="0.6" fill="#555"/>
<circle cx="54.00" cy="0.00" r="0.6" fill="#555"/>
<circle cx="64.80" cy="0.00" r="0.6" fill="#555"/>
<circle cx="75.60" cy="0.00" r="0.6" fill="#555"/>
<circle cx="86.40" cy="0.00" r="0.6" fill="#555"/>
<circle cx="97.20" cy="0.00" r="0.6" fill="#555"/>
<circle cx="108.00" cy="0.00" r="0.6" fill="#555"/>
<circle cx="118.80" cy="0.00" r="0.6" fill="#555"/>
</g>
<g transform="translate(274.00,395.50) rotate(-35.75)">
<line x1="0.00" y1="-1.20" x2="0.00" y2="16.10" stroke="#4a4a4a" stroke-width="0.65" />
<line x1="-1.80" y1="0.00" x2="-1.80" y2="14.90" stroke="#aaa" stroke-width="0.45" />
<circle cx="0.00" cy="-1.00" r="0.85" fill="#3c3c3c"/>
<circle cx="0.00" cy="15.90" r="0.85" fill="#3c3c3c"/>
<circle cx="0.00" cy="7.45" r="0.45" fill="#3c3c3c"/>
</g>
<g transform="translate(274.00,395.50) rotate(-35.75)">
<line x1="87.50" y1="-1.20" x2="87.50" y2="16.10" stroke="#4a4a4a" stroke-width="0.65" />
<line x1="85.70" y1="0.00" x2="85.70" y2="14.90" stroke="#aaa" stroke-width="0.45" />
<circle cx="87.50" cy="-1.00" r="0.85" fill="#3c3c3c"/>
<circle cx="87.50" cy="15.90" r="0.85" fill="#3c3c3c"/>
<circle cx="87.50" cy="7.45" r="0.45" fill="#3c3c3c"/>
</g>
<g transform="translate(274.00,395.50) rotate(-35.75)">
<line x1="127.70" y1="-1.20" x2="127.70" y2="16.10" stroke="#4a4a4a" stroke-width="0.65" />
<line x1="125.90" y1="0.00" x2="125.90" y2="14.90" stroke="#aaa" stroke-width="0.45" />
<circle cx="127.70" cy="-1.00" r="0.85" fill="#3c3c3c"/>
<circle cx="127.70" cy="15.90" r="0.85" fill="#3c3c3c"/>
<circle cx="127.70" cy="7.45" r="0.45" fill="#3c3c3c"/>
</g>
<path d="M 377.63 320.88 L 390 313.4 L 403 313.2" stroke="#4a4a4a" stroke-width="1.0" fill="none" />
<path d="M 386.33 332.98 L 397 328.6 L 403 328.6" stroke="#6a6a6a" stroke-width="0.6" fill="none" />
<line x1="389.70" y1="318.50" x2="392.30" y2="318.50" stroke="#6a6a6a" stroke-width="0.5" />
<line x1="391.00" y1="317.20" x2="391.00" y2="319.80" stroke="#6a6a6a" stroke-width="0.5" />
<line x1="392.20" y1="324.50" x2="394.80" y2="324.50" stroke="#6a6a6a" stroke-width="0.5" />
<line x1="393.50" y1="323.20" x2="393.50" y2="325.80" stroke="#6a6a6a" stroke-width="0.5" />
<line x1="403.00" y1="313.20" x2="418.00" y2="313.20" stroke="#505050" stroke-width="0.95" />
<line x1="403.00" y1="314.50" x2="418.00" y2="314.50" stroke="#c4c4c4" stroke-width="0.4" />
<line x1="403.00" y1="328.10" x2="418.00" y2="328.10" stroke="#a4a4a4" stroke-width="0.5" />
<line x1="403.00" y1="326.80" x2="418.00" y2="326.80" stroke="#d8d8d8" stroke-width="0.35" />
<line x1="403.00" y1="317.20" x2="418.00" y2="317.20" stroke="#b4b4b4" stroke-width="0.5" stroke-dasharray="5,2"/>
<line x1="403.00" y1="324.00" x2="418.00" y2="324.00" stroke="#b8b8b8" stroke-width="0.5" stroke-dasharray="5,2"/>
<circle cx="413.80" cy="313.20" r="0.6" fill="#555"/>
<line x1="423.00" y1="313.20" x2="491.00" y2="313.20" stroke="#505050" stroke-width="0.95" />
<line x1="423.00" y1="314.50" x2="491.00" y2="314.50" stroke="#c4c4c4" stroke-width="0.4" />
<line x1="423.00" y1="328.10" x2="491.00" y2="328.10" stroke="#a4a4a4" stroke-width="0.5" />
<line x1="423.00" y1="326.80" x2="491.00" y2="326.80" stroke="#d8d8d8" stroke-width="0.35" />
<line x1="423.00" y1="317.20" x2="491.00" y2="317.20" stroke="#b4b4b4" stroke-width="0.5" stroke-dasharray="5,2"/>
<line x1="423.00" y1="324.00" x2="491.00" y2="324.00" stroke="#b8b8b8" stroke-width="0.5" stroke-dasharray="5,2"/>
<circle cx="433.80" cy="313.20" r="0.6" fill="#555"/>
<circle cx="444.60" cy="313.20" r="0.6" fill="#555"/>
<circle cx="455.40" cy="313.20" r="0.6" fill="#555"/>
<circle cx="466.20" cy="313.20" r="0.6" fill="#555"/>
<circle cx="477.00" cy="313.20" r="0.6" fill="#555"/>
<circle cx="487.80" cy="313.20" r="0.6" fill="#555"/>
<line x1="403.00" y1="312.00" x2="403.00" y2="329.30" stroke="#4a4a4a" stroke-width="0.65" />
<line x1="401.20" y1="313.20" x2="401.20" y2="328.10" stroke="#aaa" stroke-width="0.45" />
<circle cx="403.00" cy="312.20" r="0.85" fill="#3c3c3c"/>
<circle cx="403.00" cy="329.10" r="0.85" fill="#3c3c3c"/>
<circle cx="403.00" cy="320.65" r="0.45" fill="#3c3c3c"/>
<line x1="440.60" y1="312.00" x2="440.60" y2="329.30" stroke="#4a4a4a" stroke-width="0.65" />
<line x1="438.80" y1="313.20" x2="438.80" y2="328.10" stroke="#aaa" stroke-width="0.45" />
<circle cx="440.60" cy="312.20" r="0.85" fill="#3c3c3c"/>
<circle cx="440.60" cy="329.10" r="0.85" fill="#3c3c3c"/>
<circle cx="440.60" cy="320.65" r="0.45" fill="#3c3c3c"/>
<line x1="491.00" y1="312.00" x2="491.00" y2="329.80" stroke="#3a3a3a" stroke-width="0.8" />
<circle cx="491.00" cy="312.20" r="0.85" fill="#3c3c3c"/>
<circle cx="491.00" cy="329.60" r="0.85" fill="#3c3c3c"/>
<line x1="473.60" y1="313.20" x2="473.60" y2="326.60" stroke="#9a9a9a" stroke-width="0.5" stroke-dasharray="2,1"/>
<line x1="483.40" y1="315.00" x2="483.40" y2="326.60" stroke="#9a9a9a" stroke-width="0.5" stroke-dasharray="2,1"/>
<line x1="472.30" y1="321.20" x2="474.90" y2="321.20" stroke="#6a6a6a" stroke-width="0.5" />
<line x1="473.60" y1="319.90" x2="473.60" y2="322.50" stroke="#6a6a6a" stroke-width="0.5" />
<line x1="482.10" y1="321.20" x2="484.70" y2="321.20" stroke="#6a6a6a" stroke-width="0.5" />
<line x1="483.40" y1="319.90" x2="483.40" y2="322.50" stroke="#6a6a6a" stroke-width="0.5" />
<line x1="475.70" y1="321.20" x2="478.30" y2="321.20" stroke="#6a6a6a" stroke-width="0.5" />
<line x1="477.00" y1="319.90" x2="477.00" y2="322.50" stroke="#6a6a6a" stroke-width="0.5" />
<line x1="485.00" y1="321.20" x2="495.00" y2="321.20" stroke="#9a9a9a" stroke-width="0.5" />
<line x1="467.00" y1="328.60" x2="467.00" y2="333.60" stroke="#bdbdbd" stroke-width="0.5" />
<line x1="482.00" y1="328.60" x2="482.00" y2="333.60" stroke="#9a9a9a" stroke-width="0.5" />
<line x1="465.60" y1="334.30" x2="482.00" y2="334.30" stroke="#444" stroke-width="1.0" />
<text x="54.40" y="380.60" font-size="5.6" fill="#333" font-style="normal" font-weight="normal" text-anchor="middle" stroke="#333" stroke-width="0.12" >4</text>
<text x="88.60" y="380.60" font-size="5.6" fill="#333" font-style="normal" font-weight="normal" text-anchor="middle" stroke="#333" stroke-width="0.12" >6</text>
<text x="125.00" y="388.00" font-size="5.6" fill="#333" font-style="normal" font-weight="normal" text-anchor="middle" stroke="#333" stroke-width="0.12" >2</text>
<text x="149.60" y="388.00" font-size="5.6" fill="#333" font-style="normal" font-weight="normal" text-anchor="middle" stroke="#333" stroke-width="0.12" >7</text>
<text x="178.00" y="388.00" font-size="5.6" fill="#333" font-style="normal" font-weight="normal" text-anchor="middle" stroke="#333" stroke-width="0.12" >3</text>
<text x="70.00" y="433.00" font-size="5.6" fill="#333" font-style="normal" font-weight="normal" text-anchor="middle" stroke="#333" stroke-width="0.12" >5</text>
<text x="251.60" y="381.60" font-size="5.6" fill="#333" font-style="normal" font-weight="normal" text-anchor="middle" stroke="#333" stroke-width="0.12" >9</text>
<text x="309.60" y="343.00" font-size="5.6" fill="#333" font-style="normal" font-weight="normal" text-anchor="middle" stroke="#333" stroke-width="0.12" >3</text>
<text x="366.00" y="301.40" font-size="5.2" fill="#333" font-style="normal" font-weight="normal" text-anchor="middle" stroke="#333" stroke-width="0.12" >10</text>
<text x="452.00" y="356.40" font-size="5.6" fill="#333" font-style="normal" font-weight="normal" text-anchor="middle" stroke="#333" stroke-width="0.12" >8</text>
<line x1="55.50" y1="382.50" x2="61.00" y2="393.50" stroke="#ababab" stroke-width="0.45" />
<line x1="88.00" y1="383.00" x2="81.00" y2="398.00" stroke="#ababab" stroke-width="0.45" />
<line x1="123.50" y1="389.50" x2="117.50" y2="401.60" stroke="#ababab" stroke-width="0.45" />
<line x1="150.00" y1="389.50" x2="153.00" y2="394.50" stroke="#ababab" stroke-width="0.45" />
<line x1="180.00" y1="389.30" x2="184.60" y2="400.50" stroke="#ababab" stroke-width="0.45" />
<line x1="180.50" y1="389.30" x2="208.90" y2="401.10" stroke="#ababab" stroke-width="0.45" />
<line x1="58.00" y1="418.50" x2="67.50" y2="427.00" stroke="#ababab" stroke-width="0.45" />
<line x1="253.50" y1="383.00" x2="268.00" y2="398.00" stroke="#ababab" stroke-width="0.45" />
<line x1="311.00" y1="337.00" x2="345.00" y2="342.00" stroke="#ababab" stroke-width="0.45" />
<line x1="312.00" y1="338.50" x2="314.00" y2="362.00" stroke="#ababab" stroke-width="0.45" />
<line x1="368.00" y1="302.50" x2="385.00" y2="315.00" stroke="#ababab" stroke-width="0.45" />
<line x1="453.00" y1="352.00" x2="464.00" y2="336.00" stroke="#ababab" stroke-width="0.45" />
<text x="0" y="0" font-size="11.0" fill="#2a2a2a" font-style="normal" stroke="#2a2a2a" stroke-width="0.2" textLength="322.0" lengthAdjust="spacing" transform="translate(61.70,23.20) scale(0.84,1)">Варианты исполнения скребкового транспортера</text>
<text x="145.60" y="55.10" font-size="8.2" fill="#2a2a2a" font-style="normal" font-weight="normal" text-anchor="start" textLength="41.8" lengthAdjust="spacingAndGlyphs" stroke="#2a2a2a" stroke-width="0.3" >Исполнение</text>
<text x="195.20" y="55.10" font-size="8.2" fill="#2a2a2a" font-style="normal" font-weight="normal" text-anchor="start" stroke="#2a2a2a" stroke-width="0.3" >1</text>
<text x="166.80" y="238.20" font-size="8.2" fill="#2a2a2a" font-style="normal" font-weight="normal" text-anchor="start" textLength="42.6" lengthAdjust="spacingAndGlyphs" stroke="#2a2a2a" stroke-width="0.3" >Исполнение</text>
<text x="216.40" y="238.20" font-size="8.2" fill="#2a2a2a" font-style="normal" font-weight="normal" text-anchor="start" stroke="#2a2a2a" stroke-width="0.3" >2</text>
<text x="170.20" y="363.70" font-size="8.2" fill="#2a2a2a" font-style="normal" font-weight="normal" text-anchor="start" textLength="42.0" lengthAdjust="spacingAndGlyphs" stroke="#2a2a2a" stroke-width="0.3" >Исполнение</text>
<text x="219.80" y="363.70" font-size="8.2" fill="#2a2a2a" font-style="normal" font-weight="normal" text-anchor="start" stroke="#2a2a2a" stroke-width="0.3" >3</text>
<text x="167.00" y="108.30" font-size="9.6" fill="#2a2a2a" font-style="normal" font-weight="normal" text-anchor="start" textLength="7.2" lengthAdjust="spacingAndGlyphs" stroke="#2a2a2a" stroke-width="0.25" >а)</text>
<text x="173.80" y="180.70" font-size="9.2" fill="#2a2a2a" font-style="normal" font-weight="normal" text-anchor="start" textLength="6.4" lengthAdjust="spacingAndGlyphs" stroke="#2a2a2a" stroke-width="0.25" >б)</text>
<text x="387.20" y="64.90" font-size="5.6" fill="#262626" font-style="italic" font-weight="normal" text-anchor="start" stroke="#262626" stroke-width="0.12" >1 –</text>
<text x="398.50" y="64.90" font-size="5.5" fill="#262626" font-style="italic" font-weight="normal" text-anchor="start" textLength="49.3" lengthAdjust="spacing" stroke="#262626" stroke-width="0.12" >натяжная секция;</text>
<text x="387.20" y="72.15" font-size="5.6" fill="#262626" font-style="italic" font-weight="normal" text-anchor="start" stroke="#262626" stroke-width="0.12" >2 –</text>
<text x="398.50" y="72.15" font-size="5.5" fill="#262626" font-style="italic" font-weight="normal" text-anchor="start" textLength="50.1" lengthAdjust="spacing" stroke="#262626" stroke-width="0.12" >приводная секция;</text>
<text x="387.20" y="79.40" font-size="5.6" fill="#262626" font-style="italic" font-weight="normal" text-anchor="start" stroke="#262626" stroke-width="0.12" >3 –</text>
<text x="398.50" y="79.40" font-size="5.5" fill="#262626" font-style="italic" font-weight="normal" text-anchor="start" textLength="41.3" lengthAdjust="spacing" stroke="#262626" stroke-width="0.12" >прямая секция;</text>
<text x="387.20" y="86.65" font-size="5.6" fill="#262626" font-style="italic" font-weight="normal" text-anchor="start" stroke="#262626" stroke-width="0.12" >4 –</text>
<text x="398.50" y="86.65" font-size="5.5" fill="#262626" font-style="italic" font-weight="normal" text-anchor="start" textLength="62.1" lengthAdjust="spacingAndGlyphs" stroke="#262626" stroke-width="0.12" >привод транспортера ;</text>
<text x="387.20" y="93.90" font-size="5.6" fill="#262626" font-style="italic" font-weight="normal" text-anchor="start" stroke="#262626" stroke-width="0.12" >5 –</text>
<text x="398.50" y="93.90" font-size="5.5" fill="#262626" font-style="italic" font-weight="normal" text-anchor="start" textLength="54.1" lengthAdjust="spacing" stroke="#262626" stroke-width="0.12" >основание привода;</text>
<text x="387.20" y="101.15" font-size="5.6" fill="#262626" font-style="italic" font-weight="normal" text-anchor="start" stroke="#262626" stroke-width="0.12" >6 –</text>
<text x="398.50" y="101.15" font-size="5.5" fill="#262626" font-style="italic" font-weight="normal" text-anchor="start" textLength="94.1" lengthAdjust="spacing" stroke="#262626" stroke-width="0.12" >защитный кожух приводной цепи;</text>
<text x="387.20" y="108.40" font-size="5.6" fill="#262626" font-style="italic" font-weight="normal" text-anchor="start" stroke="#262626" stroke-width="0.12" >7 –</text>
<text x="398.50" y="108.40" font-size="5.5" fill="#262626" font-style="italic" font-weight="normal" text-anchor="start" textLength="50.9" lengthAdjust="spacing" stroke="#262626" stroke-width="0.12" >загрузочное окно;</text>
<text x="387.20" y="115.65" font-size="5.6" fill="#262626" font-style="italic" font-weight="normal" text-anchor="start" stroke="#262626" stroke-width="0.12" >8 –</text>
<text x="398.50" y="115.65" font-size="5.5" fill="#262626" font-style="italic" font-weight="normal" text-anchor="start" textLength="53.0" lengthAdjust="spacing" stroke="#262626" stroke-width="0.12" >разгрузочное окно;</text>
<text x="387.20" y="122.90" font-size="5.6" fill="#262626" font-style="italic" font-weight="normal" text-anchor="start" stroke="#262626" stroke-width="0.12" >9 –</text>
<text x="398.50" y="122.90" font-size="5.5" fill="#262626" font-style="italic" font-weight="normal" text-anchor="start" textLength="76.5" lengthAdjust="spacing" stroke="#262626" stroke-width="0.12" >нижняя поворотная секция;</text>
<text x="385.80" y="130.15" font-size="5.6" fill="#262626" font-style="italic" font-weight="normal" text-anchor="start" stroke="#262626" stroke-width="0.12" >10 –</text>
<text x="400.60" y="130.15" font-size="5.5" fill="#262626" font-style="italic" font-weight="normal" text-anchor="start" textLength="80.0" lengthAdjust="spacing" stroke="#262626" stroke-width="0.12" >верхняя поворотная секция;</text>
<text x="0" y="0" font-size="5.8" fill="#333" font-style="italic" stroke="#333" stroke-width="0.1" textLength="117.6" lengthAdjust="spacing" transform="translate(259.00,55.30) scale(0.85,1)">Узел натяжения цепи транспортера</text>
<text x="0" y="0" font-size="10.8" fill="#262626" font-style="italic" stroke="#262626" stroke-width="0.3" textLength="237.2" lengthAdjust="spacing" transform="translate(525.70,15.80) scale(0.86,1)">Варианты расположения скребкового</text>
<text x="0" y="0" font-size="10.8" fill="#262626" font-style="italic" stroke="#262626" stroke-width="0.3" textLength="155.3" lengthAdjust="spacing" transform="translate(560.20,28.80) scale(0.86,1)">транспортера и привода</text>
<text x="0" y="0" font-size="6.0" fill="#333" font-style="italic" stroke="#333" stroke-width="0.12" textLength="67.6" lengthAdjust="spacing" transform="translate(660.80,84.80) scale(0.85,1)">Опора транспортера</text>
<text x="633.20" y="156.70" font-size="9.2" fill="#2a2a2a" font-style="normal" font-weight="normal" text-anchor="start" textLength="6.8" lengthAdjust="spacingAndGlyphs" stroke="#2a2a2a" stroke-width="0.25" >а)</text>
<text x="622.50" y="321.40" font-size="9.0" fill="#2a2a2a" font-style="normal" font-weight="normal" text-anchor="start" textLength="6.2" lengthAdjust="spacingAndGlyphs" stroke="#2a2a2a" stroke-width="0.25" >б)</text>
<text x="562.80" y="332.20" font-size="5.4" fill="#2a2a2a" font-style="italic" font-weight="normal" text-anchor="start" textLength="136.5" lengthAdjust="spacingAndGlyphs" stroke="#2a2a2a" stroke-width="0.15" >а) –  по высоте,  б) –  относительно продольной</text>
<text x="583.00" y="340.60" font-size="5.4" fill="#2a2a2a" font-style="italic" font-weight="normal" text-anchor="start" textLength="97.0" lengthAdjust="spacingAndGlyphs" stroke="#2a2a2a" stroke-width="0.15" >плоскости симметрии транспортера.</text>
</svg>
</body></html>
